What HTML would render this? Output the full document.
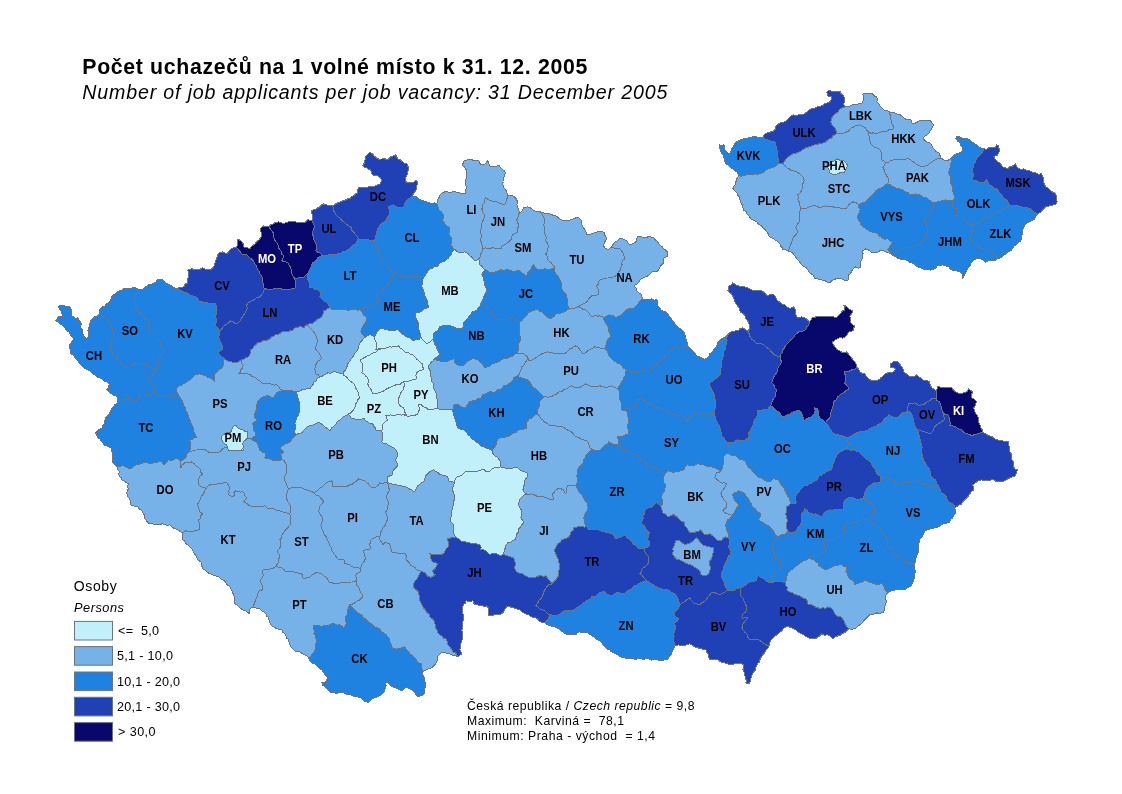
<!DOCTYPE html>
<html lang="cs">
<head>
<meta charset="utf-8">
<title>Počet uchazečů na 1 volné místo k 31. 12. 2005</title>
<style>
html,body{margin:0;padding:0;background:#fff;}
body{width:1122px;height:794px;position:relative;overflow:hidden;font-family:"Liberation Sans",Arial,sans-serif;color:#000;}
#map{position:absolute;left:0;top:0;width:1122px;height:794px;display:block;}
#map text{font-family:"Liberation Sans",Arial,sans-serif;fill:#000;}
#faces path{stroke:#6a7482;stroke-width:1;stroke-linejoin:round;shape-rendering:crispEdges;}
.c1{fill:#c2f0fa}.c2{fill:#76b2e8}.c3{fill:#2082e0}.c4{fill:#2040b6}.c5{fill:#08086c}
#labels text{font-size:12px;font-weight:bold;text-anchor:middle;}
#labels text.w{fill:#fff;}
#legend rect{stroke:#6a7482;stroke-width:1;}
#legend text{font-size:12.6px;}
#notes text{font-size:12.2px;}
</style>
</head>
<body>
<svg id="map" width="1122" height="794" viewBox="0 0 1122 794">
<rect x="0" y="0" width="1122" height="794" fill="#fff"/>
<g id="titles">
<text x="82.3" y="73.8" font-size="21.3" font-weight="bold" textLength="505" lengthAdjust="spacing">Počet uchazečů na 1 volné místo k 31. 12. 2005</text>
<text x="82.3" y="99.3" font-size="19.6" font-style="italic" textLength="585" lengthAdjust="spacing">Number of job applicants per job vacancy: 31 December 2005</text>
</g>
<g id="faces">
<path class="c3" d="M98.3,315.3 98.9,315.5 101.3,316.1 103.6,317.1 105.9,317.9 108,320.4 109.9,322.9 111,325.2 112,327.5 112.9,329.9 112.8,332.3 113.7,334.6 113.5,336.9 112,339.8 110.9,342.9 111.3,345.4 110.5,347.6 109.9,349.9 112.1,352.2 113.9,354.9 116,356.2 116.9,358.5 118.9,359.9 120.5,361.7 121.2,364.1 122.9,365.9 125.7,367.1 128.9,366.9 131,365.2 133.8,364.8 135.8,362.9 138.8,363.4 141.8,362.9 143.7,364.1 146.2,364.2 147.8,365.9 150.4,367.3 152.8,368.9 155.3,369.6 157.8,369.9 157.9,366.8 158.8,363.9 158.6,360.8 159.8,357.9 161.7,356.3 162.3,353.8 163.8,351.9 162.7,348.9 161.8,345.9 160.1,344.2 160,341.8 158.8,339.9 156,338.9 153.8,336.9 152.9,334.1 150.8,331.9 149.2,329.1 148.8,325.9 148.5,322.7 146.8,319.9 144.9,318.6 143.4,316.7 141.8,314.9 140.6,312.8 138.2,311.9 136.8,309.9 136.1,307.7 135.4,305.4 135.8,303 135.3,300 134.8,297 135.9,294.2 137.8,292 137.8,289 135.4,287.9 132.8,287.6 130.6,288.5 128.2,288.4 125.9,289 123.3,288.9 121.3,290.7 118.9,291 116.8,292.1 115.2,294.1 112.9,295 111.8,296.9 111,299 109.9,301 108.3,302.7 106.3,304.1 104.9,305.9 102.1,306.9 99.9,308.9 99.8,312 98.9,314.9Z"/>
<path class="c3" d="M157.8,369.9 155.3,369.6 152.8,368.9 150.4,367.3 147.8,365.9 146.2,364.2 143.7,364.1 141.8,362.9 138.8,363.4 135.8,362.9 133.8,364.8 131,365.2 128.9,366.9 125.7,367.1 122.9,365.9 121.2,364.1 120.5,361.7 118.9,359.9 116.9,358.5 116,356.2 113.9,354.9 112.1,352.2 109.9,349.9 110.5,347.6 111.3,345.4 110.9,342.9 112,339.8 113.5,336.9 113.7,334.6 112.8,332.3 112.9,329.9 112,327.5 111,325.2 109.9,322.9 108,320.4 105.9,317.9 103.6,317.1 101.3,316.1 98.9,315.5 98.3,315.3 97,316.1 94.7,316.4 92.9,317.9 91.5,319.7 90.3,321.6 89.9,323.9 89.1,327 87.9,329.9 88.4,332.9 88.9,335.9 86.9,338.9 85.3,337.4 83.5,335.9 82.8,333 82.9,329.9 80,326.9 81.2,324.8 80.9,322.3 79,320.4 78,317.9 75.5,318.2 73.3,316.9 71,316.9 71.9,314.5 71.6,311.9 71.1,309.3 70,306.9 66.9,306.7 64,305.6 60.9,305.4 58,306.4 60,309.9 61.5,311.7 62,314 63,315.9 60.5,316.6 58,316.9 57.3,319.3 55.6,320.9 58.2,321.8 60,323.9 62.8,325.5 65,327.9 66.1,330.4 68.8,331.5 70,333.9 71.1,336.1 73.2,337.6 74,339.9 71.9,341 71.3,343.5 69.6,344.9 69.4,347.3 70.3,349.5 70,351.9 71.2,353.9 73.3,355.1 74.6,357 76,358.9 78.2,361.2 80,363.9 81.7,365.8 83.6,367.6 85.9,368.9 88.4,370.3 91,371.6 92.9,373.9 95.5,374.8 97.2,377.1 99.9,377.9 102.1,379 103.9,380.9 106.4,381.5 108.3,383.5 110.9,383.9 108.9,385.5 108.3,388.1 106.5,389.9 108.6,390.9 109.9,392.8 112.1,394.2 114.3,395.5 116.9,395.8 117.2,398.9 117.9,401.8 120.9,401 123.9,399.8 126.8,398.7 129.9,397.8 132,399 133.4,401.1 135.8,401.8 137.6,399.2 139.8,396.8 142.8,395.7 145.8,394.8 148.1,394.4 150.3,394.3 152.5,393.8 154.8,393.8 154.8,389.9 154.1,387.7 153.1,385.7 151.8,383.9 150.9,381 148.8,378.9 150.9,377.7 152.1,375.4 153.8,373.9 155.4,371.4Z"/>
<path class="c3" d="M137.8,289 137.8,292 135.9,294.2 134.8,297 135.3,300 135.8,303 135.4,305.4 136.1,307.7 136.8,309.9 138.2,311.9 140.6,312.8 141.8,314.9 143.4,316.7 144.9,318.6 146.8,319.9 148.5,322.7 148.8,325.9 149.2,329.1 150.8,331.9 152.9,334.1 153.8,336.9 156,338.9 158.8,339.9 160,341.8 160.1,344.2 161.8,345.9 162.7,348.9 163.8,351.9 162.3,353.8 161.7,356.3 159.8,357.9 158.6,360.8 158.8,363.9 157.9,366.8 157.8,369.9 155.4,371.4 153.8,373.9 152.1,375.4 150.9,377.7 148.8,378.9 150.9,381 151.8,383.9 153.1,385.7 154.1,387.7 154.8,389.9 154.8,393.8 157.8,395 160.8,395.8 163.4,395.7 165.8,394.8 168.7,396.2 171.8,396.8 173.6,395.4 175.5,394.3 177.8,393.8 176.5,391 176.8,387.9 178.9,385.8 181.8,384.9 183.9,383.7 186,382.5 187.8,380.9 190.2,379.7 192.1,377.9 193.7,375.9 196.6,374.3 199.7,373.9 202.7,374.9 205.7,375.9 207.4,377.5 209.9,377.6 211.7,378.9 214.7,381.9 214,379.2 214.7,376.5 214.7,373.9 216.7,371.8 218.7,369.9 221.7,367.9 223,365.8 223.2,363.4 223.5,361 224.7,358.9 222.6,357.3 220.7,355.7 219,353.7 217.7,351.5 220.2,350.8 222.7,349.9 222.8,346.8 221.7,343.9 220.4,342 219.7,339.9 218.7,337.9 219.1,334.9 219.7,331.9 218.7,329.9 217.8,327.9 216.1,326.2 215.7,323.9 216.5,321.6 216.8,319.3 215.6,316.9 216.1,314.6 216.3,312.3 216.7,309.9 216.4,306.9 215.7,304 213,303.6 210.3,303.6 207.7,303 205.6,302 203.2,302.3 201.1,301.4 198.7,302 197.7,298 195.2,296.7 192.5,295.7 189.8,295 188,293.6 185.9,292.6 183.8,292 181.8,291 179,289.4 175.8,289 174,287.4 171.9,286.2 169.8,285 167.2,283.6 164.8,282 162.7,279.9 159.8,279 157.4,279.7 156.2,282.3 153.8,283 151,284.5 147.8,285 146.1,286.6 144,287.8 142.8,290 140.3,289.7Z"/>
<path class="c3" d="M154.8,393.8 152.5,393.8 150.3,394.3 148.1,394.4 145.8,394.8 142.8,395.7 139.8,396.8 137.6,399.2 135.8,401.8 133.4,401.1 132,399 129.9,397.8 126.8,398.7 123.9,399.8 120.9,401 117.9,401.8 116.4,403.5 114.7,405 113.5,406.8 111.6,408.4 110.8,410.7 109.9,412.8 108.3,415.3 106,417.2 104.9,420 104.9,424 102.7,425.1 102,427.8 99.9,429 97.6,430.8 95.5,433 96.4,435.4 97.9,437.4 99.9,439 101,441.1 103,442.7 103.9,445 106.4,445.5 108.7,446.5 110.9,448 111.9,450.9 112.3,454 112.8,456.6 112.5,459.3 112.3,461.9 114.1,463.7 115.7,465.6 117.9,466.9 120.8,466 123.9,465.9 125.8,467 128,467.7 129.9,468.9 132,467.7 133.7,466.1 135.8,464.9 138.7,465 141.1,463.3 143.8,462.9 146.3,462.6 148.8,463.1 151.3,463.6 153.8,462.9 156.4,462.2 159.1,461.8 161.8,461.9 163.8,464.9 166.4,462.9 167.8,459.9 170.3,460.1 172.9,460.2 175.2,458.9 177.8,458.9 180.8,460.9 183.4,459.7 185.8,457.9 186.6,455.9 187.2,453.7 188.8,452 190.4,449.2 190.8,446 190.5,442.9 189.8,440 192.2,439.3 194.3,437.7 196.7,437 195.3,434.4 193.7,432 193.6,428.9 192.8,426 191.2,424.2 190.6,422 189.8,419.8 188.5,416.9 187.8,413.8 186,411.1 185.8,407.8 184.2,406.1 183.3,404.1 182.5,402 181.8,399.8 180.4,397.9 179.1,395.9 177.8,393.8 175.5,394.3 173.6,395.4 171.8,396.8 168.7,396.2 165.8,394.8 163.4,395.7 160.8,395.8 157.8,395Z"/>
<path class="c2" d="M177.8,393.8 179.1,395.9 180.4,397.9 181.8,399.8 182.5,402 183.3,404.1 184.2,406.1 185.8,407.8 186,411.1 187.8,413.8 188.5,416.9 189.8,419.8 190.6,422 191.2,424.2 192.8,426 193.6,428.9 193.7,432 195.3,434.4 196.7,437 194.3,437.7 192.2,439.3 189.8,440 190.5,442.9 190.8,446 190.4,449.2 188.8,452 191.4,451.3 193.9,450.1 196.7,450 199.1,449.6 201.4,449.5 203.7,449 205.8,450.1 207.8,451.5 209.7,453 212.4,452.4 215,452.4 217.7,453 219.8,451.5 221.7,449.7 223.7,448 227.6,447.6 226.7,445 224.6,443.6 222.7,442 221.7,439.1 221.7,436 223.8,434.7 225.7,433 228.3,432.9 230.7,432 231.9,429.6 232.7,427 235.7,425 237.2,427.5 239.7,429 242.4,429.8 244.9,431.2 247.7,432 247.3,434.3 247.6,436.7 246.9,438.3 247.2,438.4 249.7,438.5 251.7,438.9 253.2,437.2 255.1,435.7 256.6,434 254.9,432.1 253.6,430 253.9,426.9 252.6,424 254.9,421.7 257.6,420 254.6,417.8 254.6,415.4 254.8,413.1 255.8,410.9 257.1,408.8 256.2,406.3 257.1,404.1 257.6,401.8 259.3,399.5 261.6,397.8 264.4,396.3 267.6,395.8 269.8,396.3 271.7,397.9 274,397.8 274.9,395 276.9,392.8 279.7,391.2 282.9,390.8 279.9,388.8 278.7,386.6 276.9,384.8 274.5,385.1 272.2,384.5 269.9,383.8 267.6,383.9 264.5,383.9 261.6,382.9 259.9,380.8 257.5,379.6 255.6,377.9 253.7,376.7 251.5,376.1 249.9,374.3 247.7,373.9 245.4,373.4 243.2,373.8 240.9,373.3 238.7,373.9 240.5,372.2 240.8,369.5 242.7,367.9 243.1,365.4 241.2,363.3 241.7,360.9 241.5,360 239.1,361.2 236.7,362.9 233.7,362.1 230.7,361.9 228.5,361.3 226.5,360.3 224.7,358.9 223.5,361 223.2,363.4 223,365.8 221.7,367.9 218.7,369.9 216.7,371.8 214.7,373.9 214.7,376.5 214,379.2 214.7,381.9 211.7,378.9 209.9,377.6 207.4,377.5 205.7,375.9 202.7,374.9 199.7,373.9 196.6,374.3 193.7,375.9 192.1,377.9 190.2,379.7 187.8,380.9 186,382.5 183.9,383.7 181.8,384.9 178.9,385.8 176.8,387.9 176.5,391Z"/>
<path class="c2" d="M188.8,452 187.2,453.7 186.6,455.9 185.8,457.9 183.4,459.7 180.8,460.9 180.3,463.3 180.8,465.6 180.8,467.9 182.2,465 184.8,462.9 187.1,462.5 189.5,462.8 191.8,461.9 193.9,463.5 195.5,465.6 197.7,466.9 199.9,468.9 200.5,472 202.7,473.9 200.2,476 198.7,478.9 198.5,481.9 198.7,484.9 200.5,486.4 202.5,487.3 204.7,487.9 205.7,488.9 207.3,486.5 209.7,484.9 212.3,484.4 215.1,484.5 217.7,483.9 219.9,483.3 222.2,483.4 224.4,482.6 226.7,482.9 228.5,485.2 229.7,487.9 228.9,490.2 229.1,492.6 228.7,494.9 230.7,495.9 232.7,496.9 234.3,495.2 234,492.6 235.7,490.9 238,491.4 240.3,492.1 242.7,491.9 244.6,493.5 245,496.1 246.7,497.9 245.1,499.8 243.7,501.9 245.9,502.9 247.9,504.2 249.6,505.9 252.3,506.1 255,506.7 257.6,506.9 259.9,506 262.4,507 264.6,505.9 266.8,507.9 269.6,508.9 272.9,508.7 275.9,509.9 278.2,510.7 280.6,511.1 282.9,511.9 285.2,512.7 287.6,513.2 289.9,513.8 290.6,510.9 290.9,507.9 290.2,505.7 289.5,503.6 287.9,501.9 286.9,499.3 286.9,496.6 286.9,493.9 287.4,491.2 288.9,488.9 287.3,487.2 286.8,485 286,482.9 284.9,480.9 284.8,478.5 284.9,476.1 285.9,473.9 287,471.3 286.5,468.5 286.9,465.9 285.5,463.4 284.2,460.8 281.9,458.9 280.2,460.5 277.9,460.9 274.7,460.6 271.6,459.9 269.5,458.7 266.9,458.9 264.6,457.9 265.8,455.6 265.6,453 263.3,452.6 261.5,451.1 259.6,450 258.6,447 257.6,444 256,441.9 253.5,440.8 251.6,439 251.7,438.9 249.7,438.5 247.2,438.4 246.9,438.3 246.7,439 244.1,441 242.7,444 243.6,446.2 242.8,448.7 243.7,451 241.4,449.9 238.9,451.1 236.7,450 234.1,451.1 231.3,450.2 228.7,451 227.7,447.9 227.6,447.6 223.7,448 221.7,449.7 219.8,451.5 217.7,453 215,452.4 212.4,452.4 209.7,453 207.8,451.5 205.8,450.1 203.7,449 201.4,449.5 199.1,449.6 196.7,450 193.9,450.1 191.4,451.3Z"/>
<path class="c4" d="M175.8,289 179,289.4 181.8,291 183.8,292 185.9,292.6 188,293.6 189.8,295 192.5,295.7 195.2,296.7 197.7,298 198.7,302 201.1,301.4 203.2,302.3 205.6,302 207.7,303 210.3,303.6 213,303.6 215.7,304 216.4,306.9 216.7,309.9 216.3,312.3 216.1,314.6 215.6,316.9 216.8,319.3 216.5,321.6 215.7,323.9 216.1,326.2 217.8,327.9 218.7,329.9 219.7,331.9 220.7,329.8 222.3,328.1 223.6,326.2 225.7,324.9 228.4,323.2 230.7,320.9 232.9,321.5 234.6,323.1 236.7,323.9 238.7,322.2 240.5,320.4 241.7,317.9 243.1,316.1 244.3,314 245.5,312 246.7,309.9 247.3,307.7 246.6,305.2 247.7,303 249.6,302 251.5,300.7 253.6,300 255.4,298.5 257.3,297.4 259.6,297 261.3,295 263.1,293.2 263.8,290.4 265.9,288.8 263.9,287.8 263.7,285.1 262.9,282.5 262.9,279.8 262.2,277.7 261.4,275.6 259.9,273.8 259.5,271.5 257.6,269.9 256.9,267.8 256.4,265.6 254.8,263.9 253.9,261.9 252.3,259.5 249.9,257.9 246.9,254.8 244.3,254.8 241.9,253.9 239.8,251.4 237.9,248.9 236.5,247.1 235.9,247.9 233.3,247.9 230.9,248.9 228.9,251.3 226.9,253.9 224.9,252.8 222.9,251.9 218.9,252.9 217.7,255.2 216.9,257.9 215.5,260.7 214.9,263.8 213.7,266.5 211.9,268.8 209.6,270 206.9,269.8 204.5,268.6 202,267.8 199.7,269.5 197,269.8 194.4,269.8 192,268.8 187.8,270 188.5,273 188.8,276 188,278.3 187.9,280.6 187.8,283 185.2,284 184,286.6 181.8,288 178.7,287.9Z"/>
<path class="c4" d="M219.7,331.9 219.1,334.9 218.7,337.9 219.7,339.9 220.4,342 221.7,343.9 222.8,346.8 222.7,349.9 220.2,350.8 217.7,351.5 219,353.7 220.7,355.7 222.6,357.3 224.7,358.9 226.5,360.3 228.5,361.3 230.7,361.9 233.7,362.1 236.7,362.9 239.1,361.2 241.5,360 241.7,359.9 244.1,359.1 246.1,357.4 248.7,356.9 249.8,354.7 250.7,352.4 250.6,349.9 252.7,348.6 253.5,346.1 255.6,344.9 257.6,342.9 260.4,342.4 262.6,340.9 265,340.6 267.4,340.1 269.6,338.9 271.5,337 273.9,335.9 275.8,334.7 278.2,334.6 280.1,333.3 281.9,331.9 284.6,331.7 287.3,331.6 289.9,330.9 292.4,330.5 294.1,328.3 296.4,327.5 298.9,326.9 301.5,326.9 303.9,327.9 305.9,324.9 308.8,324 311.9,323.9 314.3,321.9 316.8,319.9 319.3,318.4 321.8,316.9 322.9,314 323.8,310.9 325.9,310.1 327.5,308.4 329.8,307.9 328.8,304.9 326.7,302.4 323.8,300.9 321.8,299 319.8,296.9 320.8,292.8 317.8,289.8 315.1,289.3 312.6,287.7 309.8,287.8 309.4,285.1 309.1,282.3 307.8,279.8 307.9,276.8 307.8,273.8 305.7,275.1 304.1,277 301.8,277.8 299.4,277.6 297.1,278.4 294.8,278.8 295.1,281.1 296,283.2 295.8,285.5 295.8,287.8 291.8,288.8 288.9,289.7 285.8,289.8 283.1,290 280.6,288.4 277.8,288.8 275.1,288.6 272.5,289.2 269.8,289.8 265.9,288.8 263.8,290.4 263.1,293.2 261.3,295 259.6,297 257.3,297.4 255.4,298.5 253.6,300 251.5,300.7 249.6,302 247.7,303 246.6,305.2 247.3,307.7 246.7,309.9 245.5,312 244.3,314 243.1,316.1 241.7,317.9 240.5,320.4 238.7,322.2 236.7,323.9 234.6,323.1 232.9,321.5 230.7,320.9 228.4,323.2 225.7,324.9 223.6,326.2 222.3,328.1 220.7,329.8Z"/>
<path class="c2" d="M305.9,324.9 303.9,327.9 301.5,326.9 298.9,326.9 296.4,327.5 294.1,328.3 292.4,330.5 289.9,330.9 287.3,331.6 284.6,331.7 281.9,331.9 280.1,333.3 278.2,334.6 275.8,334.7 273.9,335.9 271.5,337 269.6,338.9 267.4,340.1 265,340.6 262.6,340.9 260.4,342.4 257.6,342.9 255.6,344.9 253.5,346.1 252.7,348.6 250.6,349.9 250.7,352.4 249.8,354.7 248.7,356.9 246.1,357.4 244.1,359.1 241.7,359.9 241.5,360 241.7,360.9 241.2,363.3 243.1,365.4 242.7,367.9 240.8,369.5 240.5,372.2 238.7,373.9 240.9,373.3 243.2,373.8 245.4,373.4 247.7,373.9 249.9,374.3 251.5,376.1 253.7,376.7 255.6,377.9 257.5,379.6 259.9,380.8 261.6,382.9 264.5,383.9 267.6,383.9 269.9,383.8 272.2,384.5 274.5,385.1 276.9,384.8 278.7,386.6 279.9,388.8 282.9,390.8 285.9,391 288.9,390.8 291.3,390.7 293.6,391.3 295.9,391.8 299.1,391.5 301.9,389.8 304.5,389.6 307.1,388.4 309.9,388.8 311.3,386.6 313,384.5 313.9,381.9 316.3,380.7 317.5,378.1 319.8,376.9 318.3,374.7 315.9,373.9 315.3,371.4 314.9,368.9 315.5,365.7 316.8,362.9 318.1,360.8 320.4,359.8 321.8,357.9 320.2,355.5 318.8,352.9 316.6,350.5 314.9,347.9 316,345.9 316.2,343.6 317.8,341.9 317,338.8 315.9,335.9 314.7,333.8 313.5,331.7 311.9,329.9 310.1,328 308.2,326.2Z"/>
<path class="c3" d="M295.9,391.8 293.6,391.3 291.3,390.7 288.9,390.8 285.9,391 282.9,390.8 279.7,391.2 276.9,392.8 274.9,395 274,397.8 271.7,397.9 269.8,396.3 267.6,395.8 264.4,396.3 261.6,397.8 259.3,399.5 257.6,401.8 257.1,404.1 256.2,406.3 257.1,408.8 255.8,410.9 254.8,413.1 254.6,415.4 254.6,417.8 257.6,420 254.9,421.7 252.6,424 253.9,426.9 253.6,430 254.9,432.1 256.6,434 255.1,435.7 253.2,437.2 251.7,438.9 251.6,439 253.5,440.8 256,441.9 257.6,444 258.6,447 259.6,450 261.5,451.1 263.3,452.6 265.6,453 265.8,455.6 264.6,457.9 266.9,458.9 269.5,458.7 271.6,459.9 274.7,460.6 277.9,460.9 280.2,460.5 281.9,458.9 281.6,456.2 279.9,453.9 282.1,453.2 283.9,451.9 281.8,450 279.9,447.9 282.4,445.9 284.9,443.9 287.5,443.1 289.9,441.9 291.6,440 292.9,437.9 295.9,434.9 294.7,432.6 294.9,429.9 295.6,427.6 295.3,425.3 294.9,423 295.9,420.6 296.2,418 297.9,416 299,413.3 299.9,410.7 299.9,407.8 300,405.1 299.2,402.5 298.9,399.8 297.6,397.3 297,394.5Z"/>
<path class="c2" d="M180.8,460.9 177.8,458.9 175.2,458.9 172.9,460.2 170.3,460.1 167.8,459.9 166.4,462.9 163.8,464.9 161.8,461.9 159.1,461.8 156.4,462.2 153.8,462.9 151.3,463.6 148.8,463.1 146.3,462.6 143.8,462.9 141.1,463.3 138.7,465 135.8,464.9 133.7,466.1 132,467.7 129.9,468.9 128,467.7 125.8,467 123.9,465.9 120.8,466 117.9,466.9 117.5,469.4 119.3,471.5 118.9,473.9 119.2,476.2 121.2,477.8 121.9,479.9 124.1,481.1 126.2,482.5 128.3,483.9 127.8,486.4 128.2,489 127.1,491.4 126.9,493.9 127.5,496.1 128.9,497.9 130.1,500.1 130.2,502.5 130.9,504.9 133.1,505.9 135.5,506.2 137.8,506.9 139.4,508.9 141.6,510.5 142.8,512.9 144.3,515 144.4,517.7 145.8,519.9 147.5,522.2 149.8,523.9 152.1,523.6 154.3,524.7 156.5,524.8 158.8,524.9 161.8,523.9 164.5,524.1 167,525.3 169.8,524.9 171.6,526.5 173.4,528 175.8,528.9 178.1,530.2 180.4,531.5 182.8,532.9 185.8,530.9 188.1,531.1 190.5,531.2 192.8,531.9 194.9,530.5 197.7,530.5 199.7,528.9 199.2,526.6 199.9,524.3 198.9,522.1 198.7,519.9 200.7,518.3 200.8,515.5 202.7,513.9 199.7,511.9 199.1,509.2 198.2,506.6 197.7,503.9 199.1,502.1 200.1,500.1 200.5,497.8 201.7,495.9 203.7,494 204.3,491.2 205.7,488.9 204.7,487.9 202.5,487.3 200.5,486.4 198.7,484.9 198.5,481.9 198.7,478.9 200.2,476 202.7,473.9 200.5,472 199.9,468.9 197.7,466.9 195.5,465.6 193.9,463.5 191.8,461.9 189.5,462.8 187.1,462.5 184.8,462.9 182.2,465 180.8,467.9 180.8,465.6 180.3,463.3Z"/>
<path class="c1" d="M246.9,438.3 247.6,436.7 247.3,434.3 247.7,432 244.9,431.2 242.4,429.8 239.7,429 237.2,427.5 235.7,425 232.7,427 231.9,429.6 230.7,432 228.3,432.9 225.7,433 223.8,434.7 221.7,436 221.7,439.1 222.7,442 224.6,443.6 226.7,445 227.6,447.6 227.7,447.9 228.7,451 231.3,450.2 234.1,451.1 236.7,450 238.9,451.1 241.4,449.9 243.7,451 242.8,448.7 243.6,446.2 242.7,444 244.1,441 246.7,439Z"/>
<path class="c2" d="M289.9,513.8 287.6,513.2 285.2,512.7 282.9,511.9 280.6,511.1 278.2,510.7 275.9,509.9 272.9,508.7 269.6,508.9 266.8,507.9 264.6,505.9 262.4,507 259.9,506 257.6,506.9 255,506.7 252.3,506.1 249.6,505.9 247.9,504.2 245.9,502.9 243.7,501.9 245.1,499.8 246.7,497.9 245,496.1 244.6,493.5 242.7,491.9 240.3,492.1 238,491.4 235.7,490.9 234,492.6 234.3,495.2 232.7,496.9 230.7,495.9 228.7,494.9 229.1,492.6 228.9,490.2 229.7,487.9 228.5,485.2 226.7,482.9 224.4,482.6 222.2,483.4 219.9,483.3 217.7,483.9 215.1,484.5 212.3,484.4 209.7,484.9 207.3,486.5 205.7,488.9 204.3,491.2 203.7,494 201.7,495.9 200.5,497.8 200.1,500.1 199.1,502.1 197.7,503.9 198.2,506.6 199.1,509.2 199.7,511.9 202.7,513.9 200.8,515.5 200.7,518.3 198.7,519.9 198.9,522.1 199.9,524.3 199.2,526.6 199.7,528.9 197.7,530.5 194.9,530.5 192.8,531.9 190.5,531.2 188.1,531.1 185.8,530.9 182.8,532.9 182.3,535.2 183,537.5 182.8,539.9 184.7,541.2 185.7,543.6 187.8,544.8 189.5,546.5 191,548.2 192.8,549.8 193.2,552.1 194.5,554 196,555.7 196.7,557.8 197.9,559.9 199.9,561.4 201.7,562.8 201.8,565.9 202.7,568.8 205.2,570.3 207.4,572.1 209.7,573.8 212,574.2 213.8,575.4 216,576 218.2,576.5 220,578 222,579.7 224.4,580.8 226,583 227.5,585.1 229.6,586.7 231,588.9 232.1,591.2 233.1,593.6 234,595.9 234.1,598.6 234.2,601.3 235,603.9 237.7,605.6 240,607.9 241.7,609.3 243.7,610.5 245.9,610.9 247.8,612.6 249.9,613.9 249.9,611.4 249.9,608.9 252.9,606.9 254.1,604.3 255,601.6 255.9,598.9 257.4,596.1 257.9,592.9 259.1,590.8 261.7,590.1 262.9,587.9 262.4,585.7 261.6,583.6 259.9,582 260.9,579.1 262.9,577 263.3,574.6 262.4,572.3 262.9,570 265.2,569.4 267.7,570 269.9,569 272.2,568.6 274.2,567.6 275.9,566 277.5,564.1 278.9,562 278.9,558.9 279.9,556 278.5,553.4 276.9,551 279.3,548.8 280.9,546 281,542.8 279.9,539.8 281.3,538 281.6,535.6 282.9,533.8 284.2,531.5 286,529.6 287.9,527.8 289.1,525.9 290.6,524.1 290.9,521.8 290.6,519.2 290.1,516.5Z"/>
<path class="c5" d="M236.5,247.1 237.9,248.9 239.8,251.4 241.9,253.9 244.3,254.8 246.9,254.8 249.9,257.9 252.3,259.5 253.9,261.9 254.8,263.9 256.4,265.6 256.9,267.8 257.6,269.9 259.5,271.5 259.9,273.8 261.4,275.6 262.2,277.7 262.9,279.8 262.9,282.5 263.7,285.1 263.9,287.8 265.9,288.8 269.8,289.8 272.5,289.2 275.1,288.6 277.8,288.8 280.6,288.4 283.1,290 285.8,289.8 288.9,289.7 291.8,288.8 295.8,287.8 295.8,285.5 296,283.2 295.1,281.1 294.8,278.8 293.3,276.3 291.8,273.8 291.3,270.8 290.8,267.8 289.4,265.3 287.8,262.8 284.9,261.5 281.8,260.9 282.9,258.4 283.8,255.8 281.9,254.3 281.7,251.5 279.8,249.9 278.3,247.1 277.8,243.9 276,242.2 274.8,240.1 273.8,237.9 273.9,234.8 272.8,231.9 270.7,229.5 268.8,226.9 265.8,226.4 262.9,225.9 259.9,228.9 261,231.9 261.9,234.9 260.8,237.7 258.9,239.9 256.8,241.8 254.9,243.9 253.1,245.5 251.1,246.7 249.9,248.9 247.5,247.9 244.9,247.9 243.3,246.2 243.3,243.7 241.9,241.9 239.9,240.3 237.9,238.9 237.1,241.4 237.9,243.9 237.2,246Z"/>
<path class="c5" d="M268.8,226.9 270.7,229.5 272.8,231.9 273.9,234.8 273.8,237.9 274.8,240.1 276,242.2 277.8,243.9 278.3,247.1 279.8,249.9 281.7,251.5 281.9,254.3 283.8,255.8 282.9,258.4 281.8,260.9 284.9,261.5 287.8,262.8 289.4,265.3 290.8,267.8 291.3,270.8 291.8,273.8 293.3,276.3 294.8,278.8 297.1,278.4 299.4,277.6 301.8,277.8 304.1,277 305.7,275.1 307.8,273.8 308.5,271.7 309.5,269.7 310.8,267.8 311.6,265.3 312.8,262.8 314.7,261.5 316.5,259.9 317.8,257.9 320.1,256.4 322.8,255.4 319.8,252.9 317.6,252.1 315.8,250.9 316.2,248.4 316.8,245.9 315.8,243.9 314.8,241.9 313.8,239.9 314,237.1 312.5,234.6 312.8,231.9 313.7,228.9 314.8,225.9 313.1,223.5 311.8,220.9 307.8,219.5 305.8,221.9 303.4,222.8 300.8,222.9 297.8,222.1 294.8,221.9 291.8,221.3 288.8,221.9 286.1,222.4 283.8,223.9 281.3,222.8 278.8,221.9 274.8,222.9 272.8,224.2 270.4,224.9Z"/>
<path class="c3" d="M322.8,255.4 320.1,256.4 317.8,257.9 316.5,259.9 314.7,261.5 312.8,262.8 311.6,265.3 310.8,267.8 309.5,269.7 308.5,271.7 307.8,273.8 307.9,276.8 307.8,279.8 309.1,282.3 309.4,285.1 309.8,287.8 312.6,287.7 315.1,289.3 317.8,289.8 320.8,292.8 319.8,296.9 321.8,299 323.8,300.9 326.7,302.4 328.8,304.9 329.8,307.9 332.6,309.6 335.8,309.9 338.5,309.3 341.1,309.2 343.8,309.9 346.5,310 349.1,310.3 351.8,309.5 354.5,309 357.1,310.2 359.8,309.9 362.7,308.7 365.8,307.9 368.3,306.7 370.9,305.5 373.7,304.9 376.3,303 378.7,300.9 378.1,297.8 376.7,295 377.6,291.8 379.5,290.5 381.6,289.8 383.4,288.1 386.1,287.8 387.6,285.8 389.3,284.1 390.1,281.7 391.6,279.8 392.7,277.5 392.9,274.9 394.6,272.8 392.1,271.3 389.6,269.8 388.3,267.6 386.5,265.7 384.6,263.8 383.1,262 382.7,259.5 380.4,258.2 379.6,255.8 378.6,253.2 378.2,250.3 376.6,247.9 376,245.2 374.6,242.7 374.6,239.9 373.6,240.9 371,240.8 368.4,239.6 365.7,239.9 363.2,239.8 360.7,239.8 358.3,238.9 357.1,241.4 355.7,243.9 353.3,245 351.3,246.7 349.7,248.9 347.1,250.2 344.7,251.9 342.2,251.9 340.2,253.8 337.7,253.9 335.1,254.7 332.4,254.7 329.7,254.8 327.4,255.1 325.1,255.8Z"/>
<path class="c4" d="M311.8,220.9 313.1,223.5 314.8,225.9 313.7,228.9 312.8,231.9 312.5,234.6 314,237.1 313.8,239.9 314.8,241.9 315.8,243.9 316.8,245.9 316.2,248.4 315.8,250.9 317.6,252.1 319.8,252.9 322.8,255.4 325.1,255.8 327.4,255.1 329.7,254.8 332.4,254.7 335.1,254.7 337.7,253.9 340.2,253.8 342.2,251.9 344.7,251.9 347.1,250.2 349.7,248.9 351.3,246.7 353.3,245 355.7,243.9 357.1,241.4 358.3,238.9 357.4,236.1 355.1,234.3 353.7,231.9 351.7,230.2 351,227.4 348.7,225.9 346.1,224 343.7,221.9 341.7,220.2 340,218.2 337.7,216.9 336,215.2 334.9,213 333.7,210.9 333.7,208.3 332.7,205.9 330.2,205.3 327.7,205.9 326,204.3 323.7,203.9 321.5,204.9 319.9,206.8 317.8,207.9 315.9,209.2 313.6,209.6 311.8,210.9 311.7,213.5 312.8,215.9 312.5,218.4Z"/>
<path class="c4" d="M332.7,205.9 333.7,208.3 333.7,210.9 334.9,213 336,215.2 337.7,216.9 340,218.2 341.7,220.2 343.7,221.9 346.1,224 348.7,225.9 351,227.4 351.7,230.2 353.7,231.9 355.1,234.3 357.4,236.1 358.3,238.9 360.7,239.8 363.2,239.8 365.7,239.9 368.4,239.6 371,240.8 373.6,240.9 374.6,239.9 375.7,237.3 376,234.6 376.6,231.9 377.3,229.7 378.6,227.8 379.6,225.9 381.3,224.2 383,222.7 384.9,221.5 386.6,219.9 387,217.6 388.7,215.9 389.6,213.9 389.5,211.6 389.1,209.2 388.6,206.9 390.8,205.2 393.6,204.9 395.5,206.2 397.4,207.3 399.6,207.9 400,207.9 402.2,207.5 404,205.9 405,203.4 406,200.9 407.8,199.1 410.2,197.8 412,195.9 414,192.9 415.5,191 416.9,188.9 416.7,185.8 417.9,182.9 415.9,180 414.3,181.9 412,182.9 409.5,182.9 407,182.9 405,180 405.8,177.9 406.3,175.6 408,174 407.9,170.9 409,168 407.8,166.1 407,164 404,162.9 401.6,161 399.9,159.4 397.6,159 396.8,156.9 395.6,155 393.1,155.9 390.6,157 387.6,160 384.8,158.7 381.6,159 379,159.2 376.6,158 374.4,156.2 372.7,154 369.7,152 368,154.3 365.7,156 365.5,158.6 364.7,161 364,163.6 362.7,166 364.5,167.3 366.7,168 368.4,169.4 370.7,170 371.3,172.6 372.7,175 375.2,175.1 377.6,175.9 380,177.6 381.6,179.9 380.6,183.9 378.1,184.7 375.6,185.9 373.4,186.9 370.9,185.9 368.7,186.9 366.1,187.2 363.7,187.9 361.2,188 358.7,187.9 357.6,190.3 357.7,192.9 355.4,194.1 353.7,195.9 351.5,196.5 350,198.6 347.7,198.9 345.3,200.1 342.7,200.9 340.2,202 337.7,202.9 335.1,204.2Z"/>
<path class="c3" d="M394.6,272.8 392.9,274.9 392.7,277.5 391.6,279.8 390.1,281.7 389.3,284.1 387.6,285.8 386.1,287.8 383.4,288.1 381.6,289.8 379.5,290.5 377.6,291.8 376.7,295 378.1,297.8 378.7,300.9 376.3,303 373.7,304.9 370.9,305.5 368.3,306.7 365.8,307.9 362.7,308.7 359.8,309.9 362.8,312.9 363.7,315.2 365.9,316.6 366.8,318.9 365.9,321 365.3,323.2 363.8,324.9 362.3,327.1 361.3,329.4 360.8,331.9 361.9,334.1 363.8,335.5 365.8,336.9 367.6,335.5 369.8,334.9 372.5,335.2 374.7,336.9 375.5,334.6 376.6,332.5 378.1,330.7 379.7,328.9 383.7,328.9 387.7,329.9 391.7,330.9 394.7,330.1 397.7,329.9 400.2,331.4 401.7,333.9 404.3,335.3 406.7,336.9 409.6,337.8 411.7,339.9 414,340.6 416.3,339.6 418.7,339.9 420.7,336.9 420.4,334.4 419.7,331.9 418.5,329 418.7,325.9 418.4,322.7 416.7,319.9 415.6,317.7 415.3,315.4 415.7,312.9 418.8,312.4 421.7,310.9 423.7,309 426.3,308.2 428.6,306.9 427.8,304.7 427.9,302.1 426.6,299.9 425.9,297.6 424.6,295.5 424.6,293 423.4,290.7 422.6,288.3 421.7,286 422.6,283 422.7,280 423.4,277.3 425.2,275.4 426.6,273 424.7,275.5 422.7,278 420.2,277.9 418,276.8 415.7,276 412.9,276.3 410.2,276.7 407.7,278 405.1,276.8 402.3,276.9 399.7,276 397.1,274.4Z"/>
<path class="c2" d="M329.8,307.9 327.5,308.4 325.9,310.1 323.8,310.9 322.9,314 321.8,316.9 319.3,318.4 316.8,319.9 314.3,321.9 311.9,323.9 308.8,324 305.9,324.9 308.2,326.2 310.1,328 311.9,329.9 313.5,331.7 314.7,333.8 315.9,335.9 317,338.8 317.8,341.9 316.2,343.6 316,345.9 314.9,347.9 316.6,350.5 318.8,352.9 320.2,355.5 321.8,357.9 320.4,359.8 318.1,360.8 316.8,362.9 315.5,365.7 314.9,368.9 315.3,371.4 315.9,373.9 318.3,374.7 319.8,376.9 322.1,376.4 323.9,375 326,374.1 327.8,372.9 330.6,373.3 333.1,371.8 335.8,371.9 338.1,372.7 340.4,373.6 342.8,373.9 344,371.6 345.8,369.9 346.9,366.9 347.8,363.9 349.3,361.9 350.6,359.8 352,357.7 353.8,355.9 354.5,353.5 356.4,351.9 357.8,349.9 358.3,347 359.2,344.3 360.8,341.9 362.3,340.1 363.7,338.2 365.8,336.9 363.8,335.5 361.9,334.1 360.8,331.9 361.3,329.4 362.3,327.1 363.8,324.9 365.3,323.2 365.9,321 366.8,318.9 365.9,316.6 363.7,315.2 362.8,312.9 359.8,309.9 357.1,310.2 354.5,309 351.8,309.5 349.1,310.3 346.5,310 343.8,309.9 341.1,309.2 338.5,309.3 335.8,309.9 332.6,309.6Z"/>
<path class="c1" d="M319.8,376.9 317.5,378.1 316.3,380.7 313.9,381.9 313,384.5 311.3,386.6 309.9,388.8 307.1,388.4 304.5,389.6 301.9,389.8 299.1,391.5 295.9,391.8 297,394.5 297.6,397.3 298.9,399.8 299.2,402.5 300,405.1 299.9,407.8 299.9,410.7 299,413.3 297.9,416 296.2,418 295.9,420.6 294.9,423 295.3,425.3 295.6,427.6 294.9,429.9 294.7,432.6 295.9,434.9 298.7,433.4 301.9,432.9 303.3,430.8 305.2,428.9 306.9,426.9 309.7,425.5 312.9,425 314.9,423.9 317,423.2 318.9,422 320.9,423.6 323,425.2 324.9,426.9 327.6,428.7 329.9,430.9 331.5,428.2 333.9,425.9 336.2,423.7 337.8,421 340.8,419.6 342.8,417 345.7,415.8 348.2,414 350.5,413.1 352,411.4 353.8,409.8 355.1,406.9 355.8,403.8 357.1,401.8 357.9,399.5 359.8,397.8 358.6,395.2 358.3,392.3 356.8,389.8 355.7,387.9 354.9,385.8 353.8,383.8 351.7,382.2 349.5,380.8 347.8,378.9 346.5,376.8 344.3,375.7 342.8,373.9 340.4,373.6 338.1,372.7 335.8,371.9 333.1,371.8 330.6,373.3 327.8,372.9 326,374.1 323.9,375 322.1,376.4Z"/>
<path class="c1" d="M365.8,336.9 363.7,338.2 362.3,340.1 360.8,341.9 359.2,344.3 358.3,347 357.8,349.9 356.4,351.9 354.5,353.5 353.8,355.9 352,357.7 350.6,359.8 349.3,361.9 347.8,363.9 346.9,366.9 345.8,369.9 344,371.6 342.8,373.9 344.3,375.7 346.5,376.8 347.8,378.9 349.5,380.8 351.7,382.2 353.8,383.8 354.9,385.8 355.7,387.9 356.8,389.8 358.3,392.3 358.6,395.2 359.8,397.8 357.9,399.5 357.1,401.8 355.8,403.8 355.1,406.9 353.8,409.8 352,411.4 350.5,413.1 348.2,414 350.1,416.4 351.8,419 354.2,418.8 356.5,419.4 358.8,420 361.4,419.2 363.8,418 365.3,420.5 367.8,422 370,423.6 372.8,424 373.6,426 375.2,427.7 375.8,429.9 378.7,430.9 381.8,430.9 382.3,428.6 382,426.2 382.8,424 385.1,421.8 387.8,420 386.4,417.6 385.8,415 388.1,415.4 390.5,414.9 392.8,416 395.8,415.1 398.7,414 401.3,415.1 404.2,414.8 406.7,416 405.7,413.8 404.3,410.9 403.7,407.8 400.7,406.4 398.7,403.8 398.9,401.1 398.7,398.4 399.7,395.8 400.6,393.8 401.3,391.6 403.1,390 403.7,387.8 404.4,384.8 403.7,381.9 401.6,382.7 400,384.4 397.7,384.8 394.5,385.1 391.7,386.8 389.6,387.7 387.4,388.3 385.7,389.8 383.5,391 381.2,392.1 378.7,392.8 375.8,393.9 372.8,393.8 371.6,391.4 370.8,388.8 368.7,386.7 367.8,383.8 368.4,380.8 367.8,377.9 365.8,376.2 364.2,374 361.8,372.9 362.2,370.5 362.1,368.2 362.8,365.9 362.4,363.6 360.7,361.9 359.8,359.9 361.9,359.2 363.7,357.7 365.8,356.9 367.6,355.5 369.9,355.2 371.6,353.6 373.7,352.9 375.9,352.2 377.5,350.3 379.6,349.5 381.7,348.9 378.6,348.6 375.7,349.9 376.4,346.9 376.7,343.9 375.9,341.6 374.9,339.4 374.7,336.9 372.5,335.2 369.8,334.9 367.6,335.5Z"/>
<path class="c3" d="M394.6,272.8 397.1,274.4 399.7,276 402.3,276.9 405.1,276.8 407.7,278 410.2,276.7 412.9,276.3 415.7,276 418,276.8 420.2,277.9 422.7,278 424.7,275.5 426.6,273 428.5,270.7 429.6,268 432.5,268.1 434.9,266.5 437.6,266 439.9,262.9 442,261.9 444.2,261.5 445.9,259.9 448,258.6 449.3,256.6 450.9,254.9 451.7,252.8 452.9,250.9 453.9,248.9 452.3,246.9 450.9,244.9 451.2,241.8 451.9,238.9 450.3,236.5 448.9,233.9 449.4,230.9 449.9,227.9 447.7,226.6 445.9,224.9 443.9,222.4 441.9,219.9 443.6,217.7 443.9,214.9 442.3,213.2 440.8,211.4 438.9,209.9 438.1,206.9 436.9,203.9 434.7,202.8 432.2,203.7 429.9,202.9 427.5,202.5 425.4,201.1 422.9,200.9 420.2,199.8 417.9,197.9 415.2,196.2 412,195.9 410.2,197.8 407.8,199.1 406,200.9 405,203.4 404,205.9 402.2,207.5 400,207.9 399.6,207.9 397.4,207.3 395.5,206.2 393.6,204.9 390.8,205.2 388.6,206.9 389.1,209.2 389.5,211.6 389.6,213.9 388.7,215.9 387,217.6 386.6,219.9 384.9,221.5 383,222.7 381.3,224.2 379.6,225.9 378.6,227.8 377.3,229.7 376.6,231.9 376,234.6 375.7,237.3 374.6,239.9 374.6,242.7 376,245.2 376.6,247.9 378.2,250.3 378.6,253.2 379.6,255.8 380.4,258.2 382.7,259.5 383.1,262 384.6,263.8 386.5,265.7 388.3,267.6 389.6,269.8 392.1,271.3Z"/>
<path class="c1" d="M426.6,273 425.3,275.3 425.2,275.4 423.4,277.3 422.7,280 422.6,283 421.7,286 422.6,288.3 423.4,290.7 424.6,293 424.6,295.5 425.9,297.6 426.6,299.9 427.9,302.1 427.8,304.7 428.6,306.9 426.3,308.2 423.7,309 421.7,310.9 418.8,312.4 415.7,312.9 415.3,315.4 415.6,317.7 416.7,319.9 418.4,322.7 418.7,325.9 418.5,329 419.7,331.9 420.4,334.4 420.7,336.9 422.2,339.3 424.1,341.4 426.8,343.4 428.8,342.5 430.8,341.4 433.5,338.8 433.2,336.1 433.5,333.4 435.5,332.1 437.5,330.7 438.9,328.9 439.5,326.7 443.5,325.4 445.7,325.9 448,325.9 450.8,325.9 453.4,326.9 456,327.9 458.9,328.8 462,328.9 463.4,326.8 463.5,324.3 464,321.9 466,320 467.9,317.9 469.4,316 470.9,314.1 471.9,311.9 474.5,311.1 476.9,309.9 478.4,307.7 480.2,305.6 480.9,302.9 482.3,301.1 482.9,298.9 483.8,296.8 484.3,294.6 485.9,292.8 486.8,290.8 486.1,288.2 485,285.6 484.8,282.8 483.8,280.2 483.2,277.4 481.8,274.8 483.2,272.3 484.8,269.8 483.1,268.2 481.8,266.2 479.8,264.9 479.5,261.8 478.8,258.9 477,260.1 474.9,260.9 473.2,259.2 471.8,257.2 469.9,255.9 467.8,253.3 464.9,251.9 461.9,252.4 458.9,252.9 456.4,250.8 453.9,248.9 452.9,250.9 451.7,252.8 450.9,254.9 449.3,256.6 448,258.6 445.9,259.9 444.2,261.5 442,261.9 439.9,262.9 437.6,266 434.9,266.5 432.5,268.1 429.6,268 428.5,270.7Z"/>
<path class="c1" d="M425.2,275.4 425.3,275.3 426.6,273Z"/>
<path class="c1" d="M420.7,336.9 418.7,339.9 416.3,339.6 414,340.6 411.7,339.9 409.6,337.8 406.7,336.9 404.3,335.3 401.7,333.9 400.2,331.4 397.7,329.9 394.7,330.1 391.7,330.9 387.7,329.9 383.7,328.9 379.7,328.9 378.1,330.7 376.6,332.5 375.5,334.6 374.7,336.9 374.9,339.4 375.9,341.6 376.7,343.9 376.4,346.9 375.7,349.9 378.6,348.6 381.7,348.9 384.5,348.8 387,347.5 389.7,346.9 392,347.1 394.2,346.6 396.5,346.4 398.7,345.9 399.8,348.1 402.2,349.1 403.7,350.9 405.5,352.2 408,352.2 409.7,353.9 412.1,354.6 414.1,355.9 415.7,357.9 417.2,359.6 419.1,360.9 420.5,362.8 422.7,363.9 422.5,366.5 423.6,368.9 421.4,370.4 418.7,371 416.7,372.9 415.9,375.1 416.4,377.6 415.7,379.9 412.5,379.6 409.7,380.9 406.8,381.8 403.7,381.9 404.4,384.8 403.7,387.8 403.1,390 401.3,391.6 400.6,393.8 399.7,395.8 398.7,398.4 398.9,401.1 398.7,403.8 400.7,406.4 403.7,407.8 404.3,410.9 405.7,413.8 406.7,416 409.8,416.2 412.7,415 415.3,415.1 417.7,414 418.6,411.5 419.7,409 418.9,406.5 418.7,404 421.5,405 423.7,407 426,407.4 427.6,409.2 429.7,410 431.9,409.4 434.1,409 436.4,408.8 438.7,409 437.6,406.9 437.6,404.7 437.4,402.5 437.5,400.2 436.1,396.2 436.2,393.4 434.8,390.9 433.7,388.3 433.5,385.6 433.1,383.2 431.5,381.5 431.7,378.8 430.8,376.2 430.8,373.5 430.1,370.8 429,368.6 428.1,366.2 430.8,362.8 432.6,361.2 434.1,359.5 436.1,357.5 438.3,356.3 440.2,354.8 438.8,352.1 437.2,350.4 436.8,348.1 436,346 434.8,344.1 434,341.5 433.5,338.8 430.8,341.4 428.8,342.5 426.8,343.4 424.1,341.4 422.2,339.3Z"/>
<path class="c1" d="M381.7,348.9 379.6,349.5 377.5,350.3 375.9,352.2 373.7,352.9 371.6,353.6 369.9,355.2 367.6,355.5 365.8,356.9 363.7,357.7 361.9,359.2 359.8,359.9 360.7,361.9 362.4,363.6 362.8,365.9 362.1,368.2 362.2,370.5 361.8,372.9 364.2,374 365.8,376.2 367.8,377.9 368.4,380.8 367.8,383.8 368.7,386.7 370.8,388.8 371.6,391.4 372.8,393.8 375.8,393.9 378.7,392.8 381.2,392.1 383.5,391 385.7,389.8 387.4,388.3 389.6,387.7 391.7,386.8 394.5,385.1 397.7,384.8 400,384.4 401.6,382.7 403.7,381.9 406.8,381.8 409.7,380.9 412.5,379.6 415.7,379.9 416.4,377.6 415.9,375.1 416.7,372.9 418.7,371 421.4,370.4 423.6,368.9 422.5,366.5 422.7,363.9 420.5,362.8 419.1,360.9 417.2,359.6 415.7,357.9 414.1,355.9 412.1,354.6 409.7,353.9 408,352.2 405.5,352.2 403.7,350.9 402.2,349.1 399.8,348.1 398.7,345.9 396.5,346.4 394.2,346.6 392,347.1 389.7,346.9 387,347.5 384.5,348.8Z"/>
<path class="c2" d="M436.9,203.9 438.1,206.9 438.9,209.9 440.8,211.4 442.3,213.2 443.9,214.9 443.6,217.7 441.9,219.9 443.9,222.4 445.9,224.9 447.7,226.6 449.9,227.9 449.4,230.9 448.9,233.9 450.3,236.5 451.9,238.9 451.2,241.8 450.9,244.9 452.3,246.9 453.9,248.9 456.4,250.8 458.9,252.9 461.9,252.4 464.9,251.9 467.8,253.3 469.9,255.9 471.8,257.2 473.2,259.2 474.9,260.9 477,260.1 478.8,258.9 480.2,256.5 480.8,253.9 482.1,251.5 482.8,248.9 482.4,246.2 481.7,243.5 480.8,240.9 481,238.2 481.4,235.6 480.8,232.9 480.6,230.1 481.4,227.5 481.8,224.9 482.1,222.3 483.3,219.9 484.1,217.4 484.8,214.9 483.1,213.3 482.6,211 481.8,208.9 482.8,206.8 482.8,204.3 484.8,202.5 484.3,199.9 485.8,197.9 487.7,199.2 489.5,200.6 491.8,200.9 494.1,201.9 496.6,201.7 498.8,202.9 500.9,203.8 503.1,204.3 505.4,203.9 506,201.8 506.2,199.5 507.7,197.6 507.8,195.3 507.9,195 507.8,194.9 506.7,192.5 505.8,189.9 504.2,188.2 503.4,186.2 502.8,183.9 503.5,181.5 503.8,179 504.1,175.7 505.8,173 504.2,170.6 501.8,169 500,167.2 498.8,165 495.8,167 492.9,166.2 489.8,166 488.8,163.3 487.8,160.6 486.4,162.3 484.8,164 480.8,165 479.6,162.9 478.8,160.6 476.3,160.2 473.9,161 471.6,159.5 468.9,159.4 466.4,160.4 463.9,161 463.2,163.1 461.9,165 464.2,166.6 465.9,169 466.5,171.9 466.9,175 466.4,178.1 464.9,180.9 465.9,183.3 465.9,185.9 466.6,188.3 465.1,190.6 465.9,192.9 461.9,193.9 459,192.6 455.9,191.9 453.2,191.2 450.6,192.6 447.9,191.9 444.8,191.9 441.9,192.9 439.9,195.1 438.9,197.9 437.2,200.7Z"/>
<path class="c2" d="M478.8,258.9 479.5,261.8 479.8,264.9 481.8,266.2 483.1,268.2 484.8,269.8 487.3,270.4 489.2,272.5 491.8,272.8 494.3,272.7 496.5,271.5 498.8,270.8 501,269.8 503.5,270.2 505.8,269.8 508.6,269.7 511.2,270.8 513.8,271.8 516.7,270.8 519.8,270.8 521.7,272.9 524.3,274.3 525.8,276.8 527,274.8 527.9,272.5 529.8,270.8 531.6,269.2 531.9,266.5 533.7,264.9 535.1,266.9 536.6,268.7 538.7,269.8 541.7,269.4 544.7,268.8 547.2,269.4 549.7,269.8 552.1,268.8 554.7,268.8 553.8,266.1 552.7,264.9 551.3,262.9 549.5,261.4 547.7,259.9 547.2,256.7 545.7,253.9 547.4,251.8 547.2,249 548.7,246.9 547.8,244.8 547.3,242.6 545.7,240.9 546.1,238.1 545.8,235.5 544.7,232.9 544.2,230.2 544.7,227.5 543.7,224.9 545,222 544.7,218.9 543.4,216.8 542.4,214.4 540.7,212.5 540.4,211.9 538.7,211.9 535.6,211.2 532.8,209.9 530.5,208 527.8,206.9 523.8,207.9 522.2,210.7 519.8,212.9 518.8,213.9 518.1,217 516.8,219.9 517.5,222.5 518.8,224.9 518.1,227.2 517.4,229.5 517.8,231.9 515.3,233.4 512.8,234.9 511.3,236.6 511.5,239.2 509.8,240.9 507.3,242.9 504.8,244.9 502.4,245.5 501.2,248.2 498.8,248.9 496.5,248.5 494.2,248 491.8,247.9 489.6,248.7 487.3,248.3 485,247.9 482.8,248.9 482.1,251.5 480.8,253.9 480.2,256.5Z"/>
<path class="c2" d="M507.9,195 507.8,195.3 507.7,197.6 506.2,199.5 506,201.8 505.4,203.9 503.1,204.3 500.9,203.8 498.8,202.9 496.6,201.7 494.1,201.9 491.8,200.9 489.5,200.6 487.7,199.2 485.8,197.9 484.3,199.9 484.8,202.5 482.8,204.3 482.8,206.8 481.8,208.9 482.6,211 483.1,213.3 484.8,214.9 484.1,217.4 483.3,219.9 482.1,222.3 481.8,224.9 481.4,227.5 480.6,230.1 480.8,232.9 481.4,235.6 481,238.2 480.8,240.9 481.7,243.5 482.4,246.2 482.8,248.9 485,247.9 487.3,248.3 489.6,248.7 491.8,247.9 494.2,248 496.5,248.5 498.8,248.9 501.2,248.2 502.4,245.5 504.8,244.9 507.3,242.9 509.8,240.9 511.5,239.2 511.3,236.6 512.8,234.9 515.3,233.4 517.8,231.9 517.4,229.5 518.1,227.2 518.8,224.9 517.5,222.5 516.8,219.9 518.1,217 518.8,213.9 519.8,212.9 518.5,210 517.8,206.9 516.7,204.7 517.6,202.2 516.8,199.9 515.3,197.4 512.8,195.9 510.3,195.3Z"/>
<path class="c2" d="M540.4,211.9 540.7,212.5 542.4,214.4 543.4,216.8 544.7,218.9 545,222 543.7,224.9 544.7,227.5 544.2,230.2 544.7,232.9 545.8,235.5 546.1,238.1 545.7,240.9 547.3,242.6 547.8,244.8 548.7,246.9 547.2,249 547.4,251.8 545.7,253.9 547.2,256.7 547.7,259.9 549.5,261.4 551.3,262.9 552.7,264.9 553.8,266.1 554.2,266.6 554.7,268.8 555,272.1 556.7,274.8 558.4,276.6 559.2,278.9 560.7,280.8 561.2,283.5 561.4,286.1 561.7,288.8 563.5,291.5 565.7,293.8 566.7,296.1 567.1,298.6 567.4,301 567.8,303.4 567.8,305.9 568.8,308.9 571.1,308.7 573.4,308.7 575.6,307.9 577.8,306.9 578.7,306.3 579.8,305.5 582.2,304.5 584.6,303.5 586.7,301.9 588.2,299.7 589.7,297.6 591.7,295.9 594.1,295.4 596.6,295.3 598.7,293.9 598.7,291.1 597.7,288.5 596.7,285.9 598.3,284.2 598.6,281.9 599.7,280 602.4,279.4 604.9,278.1 607.7,278 610.3,277.2 613.1,277 615.7,276 617.7,274.2 618.6,271.6 620.7,270 620.8,267.4 622.1,265.1 621.7,262.4 622.7,260 624.9,259.9 624.7,257.5 623.6,255.3 622.9,252.9 621.6,250.8 620,248.9 617.5,248.3 615,248.3 611.6,246.9 609.8,248.3 608,249.6 605.4,248.2 603.6,245.9 604.2,242.7 606,240 606.4,237.3 604.6,235 605,232.4 602.6,231.9 600.1,231.4 597.6,231.9 594.6,232.8 591.6,233.9 589.1,234.2 586.6,234.9 586.3,232.3 584.9,230.1 583.6,227.9 582,225.1 581.7,221.9 580.7,219.5 578.7,217.9 576,217.7 573.7,218.9 570.7,219.9 567.7,220.9 564.7,220.6 561.7,219.9 559.5,218.9 557.8,217.2 555.7,215.9 552.7,215.1 549.7,213.9 546.6,214 543.7,212.9 541.3,212Z"/>
<path class="c2" d="M554.7,268.8 554.2,266.6 553.8,266.1Z"/>
<path class="c3" d="M554.7,268.8 552.1,268.8 549.7,269.8 547.2,269.4 544.7,268.8 541.7,269.4 538.7,269.8 536.6,268.7 535.1,266.9 533.7,264.9 531.9,266.5 531.6,269.2 529.8,270.8 527.9,272.5 527,274.8 525.8,276.8 524.3,274.3 521.7,272.9 519.8,270.8 516.7,270.8 513.8,271.8 511.2,270.8 508.6,269.7 505.8,269.8 503.5,270.2 501,269.8 498.8,270.8 496.5,271.5 494.3,272.7 491.8,272.8 489.2,272.5 487.3,270.4 484.8,269.8 483.2,272.3 481.8,274.8 483.2,277.4 483.8,280.2 484.8,282.8 485,285.6 486.1,288.2 486.8,290.8 485.9,292.8 484.3,294.6 483.8,296.8 482.9,298.9 482.3,301.1 480.9,302.9 483.1,303.9 484.5,305.8 486.7,306.6 487.9,308.8 489.9,309.9 491.9,311.8 492.3,314.8 494.8,316.4 495.9,318.9 498.6,319.1 501.2,319.6 503.9,319.9 506.4,319.3 509,319.5 511.3,317.9 513.9,317.9 516,319 517.5,321.1 519.9,321.9 522.3,320.3 523.9,317.9 526,316.1 527.5,313.6 529.8,311.9 532.4,310.8 535,310 537.8,309.9 539.6,311.6 542.2,312.1 543.8,313.9 546,315.8 548.3,317.5 550.8,318.9 552.3,317.1 554.6,316 555.8,313.9 558.6,313.7 561.2,313 563.8,311.9 566.4,310.6 568.8,308.9 567.8,305.9 567.8,303.4 567.4,301 567.1,298.6 566.7,296.1 565.7,293.8 563.5,291.5 561.7,288.8 561.4,286.1 561.2,283.5 560.7,280.8 559.2,278.9 558.4,276.6 556.7,274.8 555,272.1Z"/>
<path class="c2" d="M578.7,306.3 578.8,306.3 580.8,308 583.1,309.4 585.7,309.9 587.7,311.7 589.4,313.7 590.7,315.9 593,316.6 595.2,315.6 597.5,316.1 599.7,315.9 602,316.3 603.7,317.9 605.6,316.6 607.6,315.6 609.7,314.9 612,315.3 614,316.3 615.7,317.9 617.6,316.7 619.7,315.9 621.7,314.9 623.1,313 624.5,311.1 626.7,309.9 629,308.7 631.7,308.9 634,308.1 635.6,306.1 637.6,304.9 637.9,303.9 639.3,302 640.9,300.2 642.9,298.9 641.7,296.5 640.9,293.9 638.7,292.7 636.9,290.9 635.9,288.1 633.9,285.9 636.9,283.9 639,282.4 639.9,279.9 642.9,277.9 645.3,276.7 647.9,275.9 650,274 651.9,271.9 654.4,271.4 656.9,271.9 658.9,269.7 659.9,266.9 661.7,264.7 663.9,262.9 662.9,258.9 664.5,257.2 666.9,256.9 667.9,252.9 666.3,250.5 663.9,248.9 662.5,247 660.4,245.8 658.9,244 657.6,241.7 655.4,240 653.9,238 651.6,237.5 649.9,236 647,237.2 643.9,238 641.1,236.2 637.9,236 636.7,238.9 635.9,242 633.3,243.2 630.9,245 628.5,243.9 627.3,241.2 624.9,240 622.6,238.7 620,238 618.3,240 616.1,241.4 614,243 612.7,244.9 611.6,246.9 615,248.3 617.5,248.3 620,248.9 621.6,250.8 622.9,252.9 623.6,255.3 624.7,257.5 624.9,259.9 622.7,260 621.7,262.4 622.1,265.1 620.8,267.4 620.7,270 618.6,271.6 617.7,274.2 615.7,276 613.1,277 610.3,277.2 607.7,278 604.9,278.1 602.4,279.4 599.7,280 598.6,281.9 598.3,284.2 596.7,285.9 597.7,288.5 598.7,291.1 598.7,293.9 596.6,295.3 594.1,295.4 591.7,295.9 589.7,297.6 588.2,299.7 586.7,301.9 584.6,303.5 582.2,304.5 579.8,305.5Z"/>
<path class="c2" d="M603.7,317.9 602,316.3 599.7,315.9 597.5,316.1 595.2,315.6 593,316.6 590.7,315.9 589.4,313.7 587.7,311.7 585.7,309.9 583.1,309.4 580.8,308 578.8,306.3 578.7,306.3 577.8,306.9 575.6,307.9 573.4,308.7 571.1,308.7 568.8,308.9 566.4,310.6 563.8,311.9 561.2,313 558.6,313.7 555.8,313.9 554.6,316 552.3,317.1 550.8,318.9 548.3,317.5 546,315.8 543.8,313.9 542.2,312.1 539.6,311.6 537.8,309.9 535,310 532.4,310.8 529.8,311.9 527.5,313.6 526,316.1 523.9,317.9 522.3,320.3 519.9,321.9 519.1,324.5 519.9,327.3 518.9,329.9 519.4,332.6 519.7,335.4 520.9,337.9 520.3,340.6 518.9,343 518.9,345.9 518.7,348.3 518.2,350.7 516.9,352.9 519.2,353.3 521.6,353 523.9,353.9 525.8,355.5 527.8,356.9 527.9,357.3 528.8,360.9 531.3,360.3 533.6,359.1 535.8,357.9 537.6,356.2 539.7,355 541.8,353.9 544.7,352.6 547.8,351.9 550.4,352.8 553.2,353 555.8,353.9 558.5,353.1 561.1,353.5 563.8,353.9 566.1,352.6 568,350.8 569.8,348.9 572,348.4 573.6,346.6 575.8,345.9 578.3,347.3 579.8,349.9 581.4,351.7 582.8,353.9 585.6,352.9 587.7,350.9 590.1,349.5 592.5,348.4 594.7,346.9 597.3,347.1 599.7,347.9 602.7,348.6 605.7,348.9 605.3,346.4 606.9,344.3 606.7,341.9 607.7,339.6 609.3,337.8 610.7,335.9 609.6,333.5 608.8,331 608.9,328.3 607.7,325.9 606.1,324.2 605.1,322.2 604,320.2Z"/>
<path class="c3" d="M642.9,298.9 640.9,300.2 639.3,302 637.9,303.9 637.6,304.9 635.6,306.1 634,308.1 631.7,308.9 629,308.7 626.7,309.9 624.5,311.1 623.1,313 621.7,314.9 619.7,315.9 617.6,316.7 615.7,317.9 614,316.3 612,315.3 609.7,314.9 607.6,315.6 605.6,316.6 603.7,317.9 604,320.2 605.1,322.2 606.1,324.2 607.7,325.9 608.9,328.3 608.8,331 609.6,333.5 610.7,335.9 609.3,337.8 607.7,339.6 606.7,341.9 606.9,344.3 605.3,346.4 605.7,348.9 607,351.1 608.3,353.3 608.7,355.9 610.4,357.4 612.2,358.9 613.5,360.8 615.7,361.9 617.5,363.5 620.1,363.9 621.7,365.9 623.7,368.5 626.7,369.9 629.3,370.2 631.1,372.4 633.6,372.8 636.5,372.8 639.1,372 641.6,370.9 644.4,370.7 646.9,372.1 649.6,371.9 651.3,369.5 653.3,367.6 655.6,365.9 657.9,363.6 659.6,360.9 661.8,360 663.9,358.8 664.8,356.6 666.7,355.1 668.5,353.7 669.9,351.8 671.6,349.8 673.4,347.9 675.9,346.8 678.9,347 681.8,347.8 684.7,346.5 687.8,346.2 688.1,346.2 687.8,345.8 687.3,343.1 686.3,340.6 685.8,337.8 684.9,334.8 683.8,331.9 681.7,329.4 678.8,327.9 677,326 675.1,324.2 673.9,321.9 672.1,320 670.5,317.9 668.9,315.9 667.5,313.8 665.9,311.9 663.2,311.2 660.9,309.9 659.7,307.6 657.9,305.9 657.5,302.9 656.9,299.9 654.2,300.1 651.9,298.9 647.9,299.9 645.3,300Z"/>
<path class="c3" d="M519.9,321.9 517.5,321.1 516,319 513.9,317.9 511.3,317.9 509,319.5 506.4,319.3 503.9,319.9 501.2,319.6 498.6,319.1 495.9,318.9 494.8,316.4 492.3,314.8 491.9,311.8 489.9,309.9 487.9,308.8 486.7,306.6 484.5,305.8 483.1,303.9 480.9,302.9 480.2,305.6 478.4,307.7 476.9,309.9 474.5,311.1 471.9,311.9 470.9,314.1 469.4,316 467.9,317.9 466,320 464,321.9 463.5,324.3 463.4,326.8 462,328.9 458.9,328.8 456,327.9 453.4,326.9 450.8,325.9 448,325.9 445.7,325.9 443.5,325.4 439.5,326.7 438.9,328.9 437.5,330.7 435.5,332.1 433.5,333.4 433.2,336.1 433.5,338.8 434,341.5 434.8,344.1 436,346 436.8,348.1 437.2,350.4 438.8,352.1 440.2,354.8 438.3,356.3 436.1,357.5 434.1,359.5 436.5,360 438.8,360.8 441.2,361.4 443.5,362 446,361.9 448.6,360.8 451.1,359.2 454,358.9 454.3,361.6 456,363.9 458.7,365.5 462,365.9 464.2,364.5 466,362.6 467.9,360.9 470.2,359.9 472.4,358.8 474.9,358.9 477.7,359.8 479.9,361.9 482.2,363.4 483.5,365.7 484.9,367.9 487.4,366.8 489.9,365.9 491.6,364.1 493.7,363.5 495.9,362.8 497.9,361.9 499.9,360.9 501.6,359.2 503.9,358.9 506.6,358.6 509.1,357.1 511.9,356.9 514.3,354.7 516.9,352.9 518.2,350.7 518.7,348.3 518.9,345.9 518.9,343 520.3,340.6 520.9,337.9 519.7,335.4 519.4,332.6 518.9,329.9 519.9,327.3 519.1,324.5Z"/>
<path class="c2" d="M527.9,357.3 527.8,356.9 525.8,355.5 523.9,353.9 521.6,353 519.2,353.3 516.9,352.9 514.3,354.7 511.9,356.9 509.1,357.1 506.6,358.6 503.9,358.9 501.6,359.2 499.9,360.9 497.9,361.9 495.9,362.8 493.7,363.5 491.6,364.1 489.9,365.9 487.4,366.8 484.9,367.9 483.5,365.7 482.2,363.4 479.9,361.9 477.7,359.8 474.9,358.9 472.4,358.8 470.2,359.9 467.9,360.9 466,362.6 464.2,364.5 462,365.9 458.7,365.5 456,363.9 454.3,361.6 454,358.9 451.1,359.2 448.6,360.8 446,361.9 443.5,362 441.2,361.4 438.8,360.8 436.5,360 434.1,359.5 432.6,361.2 430.8,362.8 428.1,366.2 429,368.6 430.1,370.8 430.8,373.5 430.8,376.2 431.7,378.8 431.5,381.5 433.1,383.2 433.5,385.6 433.7,388.3 434.8,390.9 436.2,393.4 436.1,396.2 437.5,400.2 437.4,402.5 437.6,404.7 437.6,406.9 438.7,409 441.6,409.8 444.6,410 447.4,409.2 450.2,409.5 453,409 453.5,406.3 455,404 457.7,404.3 460,406 462.8,407.4 465.9,408 466.4,405.7 468.4,404.2 468.9,402 471.3,401.3 473.6,400.5 475.9,400 478.3,398.6 480.9,398 481.9,396 482.9,394 485.3,394.1 487.4,393.1 489.5,391.8 491.9,392 494.8,392 497,389.8 499.9,389.8 502.3,388.3 503.9,385.8 506.6,385.5 508.9,383.8 510.8,382 512.7,380.3 513.9,377.8 515.7,376.6 517.9,375.8 519.3,374.1 519.9,371.9 521.1,369.5 521.9,366.8 523.9,364.9 525.3,362.5 527.1,360.2 527.8,357.5Z"/>
<path class="c2" d="M605.7,348.9 602.7,348.6 599.7,347.9 597.3,347.1 594.7,346.9 592.5,348.4 590.1,349.5 587.7,350.9 585.6,352.9 582.8,353.9 581.4,351.7 579.8,349.9 578.3,347.3 575.8,345.9 573.6,346.6 572,348.4 569.8,348.9 568,350.8 566.1,352.6 563.8,353.9 561.1,353.5 558.5,353.1 555.8,353.9 553.2,353 550.4,352.8 547.8,351.9 544.7,352.6 541.8,353.9 539.7,355 537.6,356.2 535.8,357.9 533.6,359.1 531.3,360.3 528.8,360.9 527.9,357.3 527.8,357.5 527.1,360.2 525.3,362.5 523.9,364.9 521.9,366.8 521.1,369.5 519.9,371.9 519.3,374.1 517.9,375.8 519.6,377.4 521.8,377.9 523.9,378.8 526.2,379.2 528.1,380.4 529.8,381.8 530.7,384.1 531.9,386.2 533.8,387.8 536.7,389.4 538.8,391.8 540.5,393.5 542.3,395 543.8,396.8 546.5,397 549.1,397 551.8,396.8 553.6,395.2 556.1,394.6 557.8,392.8 559.5,391.3 562,391.3 563.8,389.8 566,389.2 567.9,388.1 569.5,386.3 571.8,385.8 574.3,387 577,387.6 579.8,387.8 581.6,386.2 583.7,385.1 585.7,383.8 587.7,385 589.8,385.7 591.7,386.8 594.3,386 597.1,386.7 599.7,385.8 602.8,386.6 605.7,387.8 608.7,386.8 611.7,385.8 613.7,386.7 615.6,387.9 617.7,388.8 619.2,386.3 620.7,383.8 621.4,381.7 623,380 623.7,377.8 625.4,375.4 625.4,372.4 626.7,369.9 623.7,368.5 621.7,365.9 620.1,363.9 617.5,363.5 615.7,361.9 613.5,360.8 612.2,358.9 610.4,357.4 608.7,355.9 608.3,353.3 607,351.1Z"/>
<path class="c3" d="M626.7,369.9 625.4,372.4 625.4,375.4 623.7,377.8 623,380 621.4,381.7 620.7,383.8 619.2,386.3 617.7,388.8 619,391 619.3,393.4 619.7,395.8 619.6,398.7 620.6,401.2 621.7,403.8 621.6,406.9 621.7,410 624.6,410.2 626.9,408.6 629.7,409 631.8,407.5 634.4,407.3 636.6,406 636.5,402.9 637.6,400 640,398.9 642.3,399.2 644.2,400.5 646,401.9 647.7,403.4 649.7,404.4 652,404.9 653.7,406.4 655.6,407.6 658.3,407.3 660,408.9 663,409.4 666,409.9 668.3,411.6 670,413.9 672.6,414 675.3,414.2 677.9,414.9 681,415.6 683.9,416.9 686,419.1 686.9,421.9 688,419.4 689.8,417.5 691.9,415.9 693.9,414.8 696.2,414.5 697.9,412.9 700.5,413.8 703.1,414.4 705.9,413.9 708.6,414.1 711.2,415 713.9,414.9 714.9,412.8 714.2,410.3 715.6,408.2 715.9,405.9 715.6,403.2 715.1,400.6 714.9,397.9 714.6,395 713.4,392.4 711.9,389.9 710.5,387.8 709.8,385.5 709.9,382.9 712.5,381.1 714.9,378.9 717.8,377.5 719.9,375 720.8,372.7 720.1,370.2 720.9,368 721.9,365 721.8,361.8 722.1,359.1 723.3,356.5 723.8,353.8 723.9,351 725.8,348.7 725.8,345.8 726.4,343.4 727.1,340.9 726.7,338.3 727.4,335.8 727.5,335.1 726.8,335.8 724.4,337.6 721.8,338.8 719.8,340.8 717.8,342.8 717.1,345.5 715.3,347.6 713.8,349.8 712,352 709.8,353.8 708.8,356.6 706.8,358.8 704.1,359.1 701.8,357.8 699.8,356.7 697.6,356.3 695.8,354.8 694,352.2 691.8,349.8 689.7,348 688.1,346.2 687.8,346.2 684.7,346.5 681.8,347.8 678.9,347 675.9,346.8 673.4,347.9 671.6,349.8 669.9,351.8 668.5,353.7 666.7,355.1 664.8,356.6 663.9,358.8 661.8,360 659.6,360.9 657.9,363.6 655.6,365.9 653.3,367.6 651.3,369.5 649.6,371.9 646.9,372.1 644.4,370.7 641.6,370.9 639.1,372 636.5,372.8 633.6,372.8 631.1,372.4 629.3,370.2Z"/>
<path class="c2" d="M617.7,388.8 615.6,387.9 613.7,386.7 611.7,385.8 608.7,386.8 605.7,387.8 602.8,386.6 599.7,385.8 597.1,386.7 594.3,386 591.7,386.8 589.8,385.7 587.7,385 585.7,383.8 583.7,385.1 581.6,386.2 579.8,387.8 577,387.6 574.3,387 571.8,385.8 569.5,386.3 567.9,388.1 566,389.2 563.8,389.8 562,391.3 559.5,391.3 557.8,392.8 556.1,394.6 553.6,395.2 551.8,396.8 549.1,397 546.5,397 543.8,396.8 540.8,400 539.5,402.1 540,404.8 538.8,407 537.8,409.2 537.7,411.7 536.8,414 539.3,415.5 540.4,418.4 542.8,420 544.4,422.1 546.9,423.2 548.8,425 551.1,425.6 553.5,425.4 555.8,425.9 558,426.9 560.5,426.1 562.8,426.9 565,428.4 567.3,429.9 569.8,430.9 572.2,432.5 573.9,434.8 575.8,436.9 578.7,437.2 581,439.1 583.7,439.9 586.6,440.8 588.7,442.9 589.1,445.5 589.7,447.9 592.7,449.9 595.8,450.2 598.7,450.9 601.2,448.9 603.7,446.9 605,444.9 607.5,444 608.7,441.9 611.3,443.2 613.7,444.9 616.2,444.3 618.7,444.9 618.6,442.2 618.1,439.6 617.7,436.9 620.7,436.7 623.7,435.9 625.9,434.3 628.7,433.9 628.6,430.9 627.7,427.9 627.6,425.2 628.9,422.7 628.7,420 628.1,417.3 627.4,414.7 627.7,412 624.9,410.2 624.6,410.2 624.4,410.3 621.7,410 621.6,406.9 621.7,403.8 620.6,401.2 619.6,398.7 619.7,395.8 619.3,393.4 619,391Z"/>
<path class="c3" d="M543.8,396.8 542.3,395 540.5,393.5 538.8,391.8 536.7,389.4 533.8,387.8 531.9,386.2 530.7,384.1 529.8,381.8 528.1,380.4 526.2,379.2 523.9,378.8 521.8,377.9 519.6,377.4 517.9,375.8 515.7,376.6 513.9,377.8 512.7,380.3 510.8,382 508.9,383.8 506.6,385.5 503.9,385.8 502.3,388.3 499.9,389.8 497,389.8 494.8,392 491.9,392 489.5,391.8 487.4,393.1 485.3,394.1 482.9,394 481.9,396 480.9,398 478.3,398.6 475.9,400 473.6,400.5 471.3,401.3 468.9,402 468.4,404.2 466.4,405.7 465.9,408 462.8,407.4 460,406 457.7,404.3 455,404 453.5,406.3 453,409 452.6,411.4 453.7,413.6 454,416 455.2,418.9 456,422 456.5,425.1 458,427.9 460.9,429.3 464,429.9 466.5,432 467.9,434.9 470.5,436 471.5,438.8 473.9,439.9 475.7,441.9 478.4,442.7 479.9,444.9 481.7,446.3 484,446.7 485.9,447.9 488.9,449 491.9,449.9 494.3,447.7 495.9,444.9 496.8,441.9 497.9,438.9 500.4,437.6 503.3,438 505.9,436.9 508,436.2 510,435.3 511.8,433.8 513.9,432.9 516.1,432.3 517.5,430.3 519.9,429.9 522.3,429.9 524.5,428.6 526.8,427.9 526.7,424.9 525.9,422 527.9,420.7 529.4,418.7 531.8,418 534,415.6 536.8,414 537.7,411.7 537.8,409.2 538.8,407 540,404.8 539.5,402.1 540.8,400Z"/>
<path class="c4" d="M748.7,331.9 749.3,335 750.7,337.8 752.2,339.7 754.3,340.9 755.7,342.8 758.3,343.8 761.1,343.8 763.7,344.8 765.6,346.6 767.7,348.2 769.7,349.8 771.4,352.1 773.4,354.1 775.7,355.8 778.2,356.1 780.7,356.8 780.7,354.3 782.6,352.3 782.7,349.8 784.5,347.9 785.4,345.4 787.6,343.8 789.4,341.6 791.2,339.4 793.6,337.8 794.8,335.5 796.7,333.6 798.6,331.9 801.2,331.7 803.6,330.9 805.8,329.7 806.4,327 808.6,325.9 809.6,321.9 806.6,318.9 804.3,317.4 801.6,316.9 799.1,317.3 796.6,316.9 795.8,314.6 795.5,312.3 795.6,309.9 793.6,306.9 790.8,308.1 787.6,307.9 786.1,305.9 784.1,304.6 781.7,303.9 779.3,301.7 776.7,299.9 775.8,297 773.7,294.9 771.2,294.5 768.9,294.9 766.7,295.9 765.6,293.7 763.8,292.2 761.7,290.9 758.7,290.5 755.7,290.9 752.5,290.4 749.7,288.9 747.3,287.8 744.7,286.9 741.7,286.5 738.7,285.9 736.4,285.6 734.6,284.1 732.8,282.9 731.2,285 728.8,285.9 728.9,288.5 727.8,290.9 729.6,292.4 731.4,293.9 732.8,295.9 733.7,298.4 734.7,300.9 735.8,303.6 737.7,305.9 739,308.3 739.7,310.9 741.4,312.8 743.7,313.9 745.1,316.2 745.9,318.8 747.7,320.9 748.8,323.3 749.7,325.9 749.1,328.8Z"/>
<path class="c4" d="M780.7,356.8 778.2,356.1 775.7,355.8 773.4,354.1 771.4,352.1 769.7,349.8 767.7,348.2 765.6,346.6 763.7,344.8 761.1,343.8 758.3,343.8 755.7,342.8 754.3,340.9 752.2,339.7 750.7,337.8 749.3,335 748.7,331.9 745.7,329.9 742.7,327.9 740.2,328.3 738.4,330.5 735.7,330.9 732.6,331.3 729.8,332.8 727.5,335.1 727.4,335.8 726.7,338.3 727.1,340.9 726.4,343.4 725.8,345.8 725.8,348.7 723.9,351 723.8,353.8 723.3,356.5 722.1,359.1 721.8,361.8 721.9,365 720.9,368 720.1,370.2 720.8,372.7 719.9,375 717.8,377.5 714.9,378.9 712.5,381.1 709.9,382.9 709.8,385.5 710.5,387.8 711.9,389.9 713.4,392.4 714.6,395 714.9,397.9 715.1,400.6 715.6,403.2 715.9,405.9 715.6,408.2 714.2,410.3 714.9,412.8 713.9,414.9 715.6,416.9 715.6,419.7 716.9,421.9 718.1,423.8 719.4,425.6 719.9,427.9 720.5,430.6 721.3,433.2 721.9,435.9 723.5,437.8 724.9,439.9 727.8,442.9 730.3,442.2 732.8,442.9 735.2,441.2 737.8,439.9 740.8,440.6 743.8,440.9 746,438.9 748.8,437.9 749.1,435.4 748.8,432.9 750.3,430.4 751.8,427.9 753.1,425 753.8,421.9 754.9,419.1 756.8,416.9 757.6,414 757.8,410.9 760.4,410.9 762.8,409.9 765.3,409.8 767.8,409.9 768.9,407.6 770.8,405.9 771.6,402.9 772.8,399.9 774.2,397.8 775.8,395.9 775.7,392.8 776.8,389.9 774.9,387.7 773.8,385 771.8,382.9 772.7,379.9 773.8,376.9 775.2,374.7 776.7,372.4 777.8,370 778.1,367.6 779.2,365.7 780.8,364 781.2,361.6 780.8,359.2Z"/>
<path class="c5" d="M809.6,321.9 808.6,325.9 806.4,327 805.8,329.7 803.6,330.9 801.2,331.7 798.6,331.9 796.7,333.6 794.8,335.5 793.6,337.8 791.2,339.4 789.4,341.6 787.6,343.8 785.4,345.4 784.5,347.9 782.7,349.8 782.6,352.3 780.7,354.3 780.7,356.8 780.8,359.2 781.2,361.6 780.8,364 779.2,365.7 778.1,367.6 777.8,370 776.7,372.4 775.2,374.7 773.8,376.9 772.7,379.9 771.8,382.9 773.8,385 774.9,387.7 776.8,389.9 775.7,392.8 775.8,395.9 774.2,397.8 772.8,399.9 771.6,402.9 770.8,405.9 773.5,407.6 775.8,409.9 777.7,411.5 779.8,412.9 780.9,414.8 781.8,416.9 784.8,416.2 787.7,414.9 790,414.5 791.6,412.6 793.7,411.9 796.6,410.9 799.7,410.9 801.5,413.3 802.7,415.9 803.7,418.8 803.7,421.9 805.8,419.4 808.7,417.9 811.4,416.7 813.7,414.9 814.6,412.7 815.1,410.3 814.7,407.9 817.7,408.9 818.4,411.2 819,413.5 818.7,415.9 820.1,418.5 822.7,419.9 825.7,422.9 827.3,420.1 829.7,417.9 830.7,415.3 830.9,412.5 831.7,409.9 832.6,407.3 833.7,404.8 833.6,401.9 836.1,399.7 837.6,396.9 839.6,395.6 841.3,393.8 843.6,392.9 845.8,390.5 848.6,388.9 847.8,386.6 846.2,384.8 844.6,382.9 845.6,380 845.6,376.9 845,374.5 844.6,372 846.9,371 849.4,371.1 851.6,370 854.4,369.4 856.6,367.6 857.2,367.3 856.9,366.9 856.1,364.3 854.9,361.9 852.8,359.5 850.9,356.9 848.7,354.6 846.9,351.9 842.9,352.9 839.9,350.9 837,349.4 834.9,346.9 833.3,344.5 831.9,341.9 834.1,341.2 835.6,339.4 837.9,338.9 840.1,337.5 842.8,338.4 844.9,336.9 847,335.4 847.9,332.9 850.2,331.5 852.9,330.9 853.6,328.3 854.9,325.9 852.6,324.9 850.9,323 850.2,320.7 850.2,318.3 849.9,316 851.6,313.6 852.9,311 850.9,309.9 848.9,309 846.5,306.8 843.9,305 844.1,307.5 844.9,310 842.5,310.8 840.9,313 838.9,315 836.9,317 834.5,317.3 832.3,316 830,316 827.5,316.6 825,316.6 822.4,316.5 820,317 817.2,316.5 814.6,317.3 812,318 811,320Z"/>
<path class="c3" d="M727.8,442.9 724.9,439.9 723.5,437.8 721.9,435.9 721.3,433.2 720.5,430.6 719.9,427.9 719.4,425.6 718.1,423.8 716.9,421.9 715.6,419.7 715.6,416.9 713.9,414.9 711.2,415 708.6,414.1 705.9,413.9 703.1,414.4 700.5,413.8 697.9,412.9 696.2,414.5 693.9,414.8 691.9,415.9 689.8,417.5 688,419.4 686.9,421.9 686,419.1 683.9,416.9 681,415.6 677.9,414.9 675.3,414.2 672.6,414 670,413.9 668.3,411.6 666,409.9 663,409.4 660,408.9 658.3,407.3 655.6,407.6 653.7,406.4 652,404.9 649.7,404.4 647.7,403.4 646,401.9 644.2,400.5 642.3,399.2 640,398.9 637.6,400 636.5,402.9 636.6,406 634.4,407.3 631.8,407.5 629.7,409 626.9,408.6 624.6,410.2 624.9,410.2 627.7,412 627.4,414.7 628.1,417.3 628.7,420 628.9,422.7 627.6,425.2 627.7,427.9 628.6,430.9 628.7,433.9 625.9,434.3 623.7,435.9 620.7,436.7 617.7,436.9 618.1,439.6 618.6,442.2 618.7,444.9 620.5,446.5 622.2,448.1 623.7,449.9 626.1,450.3 628.4,450.9 630.7,451.9 632.5,453.3 634.7,453.7 636.6,454.9 640,456.9 640.9,459.1 643.3,460.1 644.5,462.1 646,463.8 648,464.8 649.9,466 652,466.8 654.7,467.6 657.3,468.8 660,469.8 662.1,472.3 665,473.8 668,470.8 670.6,471.5 673.2,472.2 675.9,471.8 678.7,471.4 681.3,470.6 683.9,469.8 684.8,467 686.9,464.8 689.2,465.5 691.6,465.5 693.9,465.8 695.7,464.5 697.9,463.8 700.5,464.6 703.4,464.6 705.9,465.8 708.5,466.7 711.3,466.8 713.9,467.8 716.4,468.4 718.5,469.8 720.9,470.8 722.3,468.7 722.2,465.9 723.9,463.8 723.6,460.8 722.9,457.9 724.2,455.8 725.9,453.9 728.8,453.9 729.6,451.4 729.8,448.9 728.6,445.9Z"/>
<path class="c3" d="M770.8,405.9 768.9,407.6 767.8,409.9 765.3,409.8 762.8,409.9 760.4,410.9 757.8,410.9 757.6,414 756.8,416.9 754.9,419.1 753.8,421.9 753.1,425 751.8,427.9 750.3,430.4 748.8,432.9 749.1,435.4 748.8,437.9 746,438.9 743.8,440.9 740.8,440.6 737.8,439.9 735.2,441.2 732.8,442.9 730.3,442.2 727.8,442.9 728.6,445.9 729.8,448.9 729.6,451.4 728.8,453.9 731,455.2 733.3,455.8 735.8,455.9 737.6,457.6 739.5,459 741.8,459.9 744.1,460.2 745.8,461.9 746.3,464.1 747.7,465.9 748.8,467.8 751,469 752.4,471 753.8,472.8 756.1,474.5 757.8,476.8 759.9,477.7 762.1,478.2 763.8,479.8 766.7,481.1 769.8,481.8 772.1,480.1 773.8,477.8 775.6,479.1 777.8,479.8 779.5,481.6 780.6,483.7 781.8,485.8 783.6,487.5 784.6,489.7 785.7,491.8 786.8,494.3 788.1,496.7 789.6,498.9 790.6,502.9 793.6,503.4 796.6,502.9 795.7,500 795.6,496.9 796.9,494.2 798.7,491.8 800.4,489.8 802.2,488 803.7,485.8 806.9,485.4 809.7,483.8 811.9,483.2 813.4,481.3 815.7,480.8 817.7,478.7 818.7,475.8 821,475.5 822.9,474.3 824.7,472.8 827.4,471.1 830.7,470.8 832.2,468 832.7,464.8 833.9,462.6 834.6,460.2 835.6,457.9 836.3,455.4 837.9,453.6 839.6,451.9 842,450.8 844.3,449.9 846.6,448.9 847.4,446.3 848.6,443.9 847.5,441 847.6,437.9 844.8,436.3 841.6,435.9 839.4,435.1 837,434.5 834.6,433.9 832.4,432.8 831.6,430.3 829.7,428.9 828.8,426.6 827.5,424.6 825.7,422.9 822.7,419.9 820.1,418.5 818.7,415.9 819,413.5 818.4,411.2 817.7,408.9 814.7,407.9 815.1,410.3 814.6,412.7 813.7,414.9 811.4,416.7 808.7,417.9 805.8,419.4 803.7,421.9 803.7,418.8 802.7,415.9 801.5,413.3 799.7,410.9 796.6,410.9 793.7,411.9 791.6,412.6 790,414.5 787.7,414.9 784.8,416.2 781.8,416.9 780.9,414.8 779.8,412.9 777.7,411.5 775.8,409.9 773.5,407.6Z"/>
<path class="c4" d="M857.2,367.3 856.6,367.6 854.4,369.4 851.6,370 849.4,371.1 846.9,371 844.6,372 845,374.5 845.6,376.9 845.6,380 844.6,382.9 846.2,384.8 847.8,386.6 848.6,388.9 845.8,390.5 843.6,392.9 841.3,393.8 839.6,395.6 837.6,396.9 836.1,399.7 833.6,401.9 833.7,404.8 832.6,407.3 831.7,409.9 830.9,412.5 830.7,415.3 829.7,417.9 827.3,420.1 825.7,422.9 827.5,424.6 828.8,426.6 829.7,428.9 831.6,430.3 832.4,432.8 834.6,433.9 837,434.5 839.4,435.1 841.6,435.9 844.8,436.3 847.6,437.9 850,436.6 852.4,435.4 854.6,433.9 857.1,432.7 859.6,431.9 862.8,431.8 865.9,430.8 868,430.1 869.8,428.6 871.9,427.8 873.6,426.4 876,426 877.8,424.7 879.9,423.8 882.3,422.3 883.9,419.8 885.5,418.1 887.3,416.6 888.8,414.8 891.4,416.3 893.8,417.8 896.4,417.7 898.8,416.8 901.8,413.8 903.5,412.2 906.1,412.5 907.8,410.9 907.7,408.5 907.8,406.1 908.8,403.9 911.8,403.4 914.8,402.9 917.3,404.4 919.8,405.9 921.5,404.3 924.1,404.5 925.8,402.9 927.7,401.4 930,400.6 931.8,398.9 935.8,398.9 936.9,396.5 936.8,393.9 936.6,391.3 937,389 935.8,390.9 934.1,388.9 931.8,387.9 930.1,385.1 929.8,381.9 926.9,380.6 923.8,380.9 920.8,377.9 918.6,376.7 916.8,374.9 913.8,376.9 911.3,376.6 908.8,375.9 906.3,373.9 903.8,371.9 903.1,369.3 901.8,366.9 900.4,364.8 898.8,362.9 897.1,361.4 894.8,360.9 892.8,362.4 890.8,363.9 890.8,367.9 893.4,367.9 895.8,368.9 893.8,371.9 890.8,372.3 887.8,372.9 885.1,374 882.9,375.9 880.8,377.9 878.9,379.9 876.4,380.4 873.9,380.9 871.2,380.4 868.9,378.9 866.6,376.6 864.9,373.9 862.1,373.5 859.9,371.9 858.5,369.3Z"/>
<path class="c3" d="M847.6,437.9 847.5,441 848.6,443.9 847.4,446.3 846.6,448.9 848.9,449.7 851.2,450.2 853.6,449.9 856.1,451 858.6,451.9 859.9,453 862.1,454.7 863.9,456.9 865.7,458.8 868.3,459.8 869.9,461.9 871.5,463.7 872.6,465.9 873.9,467.9 875.4,469.7 875.9,471.9 877,474.2 879.1,475.4 880.9,476.9 883.9,477.9 886.7,478.1 889.3,479 891.9,479.9 894.2,482.1 895.9,484.9 898.3,483.5 901.4,484.3 903.8,482.9 906.5,482.8 909.3,483 911.8,481.9 914.2,481.9 916.5,481.1 918.8,480.9 921,482.5 923.3,483.9 925.8,484.9 929,485.3 931.8,486.9 935,486.5 937.8,484.9 936.3,482.6 935.8,479.9 933,478.3 930.8,475.9 930.4,472.9 929.8,469.9 928.8,467.7 927.1,466 925.8,463.9 924.7,462 923.5,460.1 922.8,457.9 922.4,455.3 921.8,452.7 921.8,450 922.1,447.2 921.3,444.6 920.8,442 919.8,437.8 918.9,435.2 918.3,432.5 917.8,429.8 915.7,428.3 914.8,425.8 913.9,422.9 913.8,419.8 912.7,417.4 911.8,414.8 910.2,412.5 907.8,410.9 906.1,412.5 903.5,412.2 901.8,413.8 898.8,416.8 896.4,417.7 893.8,417.8 891.4,416.3 888.8,414.8 887.3,416.6 885.5,418.1 883.9,419.8 882.3,422.3 879.9,423.8 877.8,424.7 876,426 873.6,426.4 871.9,427.8 869.8,428.6 868,430.1 865.9,430.8 862.8,431.8 859.6,431.9 857.1,432.7 854.6,433.9 852.4,435.4 850,436.6Z"/>
<path class="c2" d="M728.8,453.9 725.9,453.9 724.2,455.8 722.9,457.9 723.6,460.8 723.9,463.8 722.2,465.9 722.3,468.7 720.9,470.8 719.1,472.2 716.9,472.8 715.3,475.1 714.9,477.8 717.4,479.8 719.9,481.8 722,483.1 724.6,482.9 726.8,483.8 725.4,486.4 723.9,488.8 721.9,491 720.9,493.8 721.7,495.9 722.8,497.9 724.4,500.7 726.8,502.9 726.9,505.6 725.8,507.9 722.8,510.9 725,512.8 727.8,513.9 730,514.4 731.8,515.9 733.7,514 734.4,511.9 735.7,509.9 736.4,507.8 738.3,506.2 738.7,503.9 736.6,502.8 735.2,500.8 733.7,498.9 732.8,494.9 734.4,493 736.6,492.1 738.7,490.9 741.4,491.4 743.7,492.9 745.4,494.9 746.7,497.3 748.7,498.9 749.5,501.4 751.1,503.4 751.7,505.9 753.2,507.8 755.5,508.8 756.7,510.9 758.8,512.3 760.7,513.9 759.9,517 758.7,519.9 761,521.7 763.7,522.9 766.1,524.5 768.7,525.9 770.2,527.7 771.7,529.5 773.7,530.9 774.4,533.3 776,535.4 776.7,537.9 778.9,535.9 781.7,534.9 784.2,535 786.2,533 788.6,532.9 787.6,530.4 786.6,527.9 786.9,525.6 786.7,523.2 787.6,520.9 786.8,518.6 786.3,516.2 785.6,513.9 786.4,511.6 786.9,509.3 786.6,506.9 789.1,505.4 790.6,502.9 789.6,498.9 788.1,496.7 786.8,494.3 785.7,491.8 784.6,489.7 783.6,487.5 781.8,485.8 780.6,483.7 779.5,481.6 777.8,479.8 775.6,479.1 773.8,477.8 772.1,480.1 769.8,481.8 766.7,481.1 763.8,479.8 762.1,478.2 759.9,477.7 757.8,476.8 756.1,474.5 753.8,472.8 752.4,471 751,469 748.8,467.8 747.7,465.9 746.3,464.1 745.8,461.9 744.1,460.2 741.8,459.9 739.5,459 737.6,457.6 735.8,455.9 733.3,455.8 731,455.2Z"/>
<path class="c4" d="M935.8,398.9 931.8,398.9 930,400.6 927.7,401.4 925.8,402.9 924.1,404.5 921.5,404.3 919.8,405.9 917.3,404.4 914.8,402.9 911.8,403.4 908.8,403.9 907.8,406.1 907.7,408.5 907.8,410.9 910.2,412.5 911.8,414.8 912.7,417.4 913.8,419.8 913.9,422.9 914.8,425.8 915.7,428.3 917.8,429.8 921,430.3 923.8,431.8 926.9,432.5 929.8,433.8 931.9,432 933.8,429.8 934.1,427.5 935.8,425.8 937.6,424.1 939.8,422.8 942.2,421.2 944.7,419.8 944,416.9 943.7,413.8 942.1,411.1 941.8,407.9 940.7,404.9 939.8,401.9 937.4,400.8Z"/>
<path class="c5" d="M937.8,386.3 937,388.8 937,389 937.2,388.7Z"/>
<path class="c5" d="M937,389 936.6,391.3 936.8,393.9 936.9,396.5 935.8,398.9 937.4,400.8 939.8,401.9 940.7,404.9 941.8,407.9 942.1,411.1 943.7,413.8 947.7,414.8 949.4,417.6 949.7,420.8 950.4,423.3 949.7,425.8 952.8,426 955.7,426.8 957.5,428.3 959.5,429.3 961.7,429.8 963.7,432.4 966.7,433.8 969.4,434.4 971.7,435.8 974.6,434.5 977.7,433.8 980.1,432.9 982.7,432.8 982.6,430.3 981.1,428.2 980.7,425.8 979,423.1 978.7,419.8 978.2,417.6 977.3,415.5 975.7,413.8 974.7,410.8 973.7,407.9 974.9,406 975.7,403.9 976.7,401.9 974.5,399.4 971.7,397.9 971.5,394.8 972.7,391.9 970.7,390.4 968.7,388.9 966.7,391.9 963.9,392.2 961.7,393.9 958.6,393.3 955.7,391.9 953.5,390.1 951.7,387.9 949.1,387.8 946.4,387.5 943.7,387.9 940.7,387.2 937.8,386.3 937.2,388.7Z"/>
<path class="c4" d="M982.7,432.8 980.1,432.9 977.7,433.8 974.6,434.5 971.7,435.8 969.4,434.4 966.7,433.8 963.7,432.4 961.7,429.8 959.5,429.3 957.5,428.3 955.7,426.8 952.8,426 949.7,425.8 950.4,423.3 949.7,420.8 949.4,417.6 947.7,414.8 943.7,413.8 944,416.9 944.7,419.8 942.2,421.2 939.8,422.8 937.6,424.1 935.8,425.8 934.1,427.5 933.8,429.8 931.9,432 929.8,433.8 926.9,432.5 923.8,431.8 921,430.3 917.8,429.8 918.3,432.5 918.9,435.2 919.8,437.8 920.8,442 921.3,444.6 922.1,447.2 921.8,450 921.8,452.7 922.4,455.3 922.8,457.9 923.5,460.1 924.7,462 925.8,463.9 927.1,466 928.8,467.7 929.8,469.9 930.4,472.9 930.8,475.9 933,478.3 935.8,479.9 936.3,482.6 937.8,484.9 939.2,487.1 940,489.5 940.8,491.9 943.3,493.9 945.8,495.9 946.7,497.9 947.5,500 948.8,501.9 951.3,503.2 953.7,504.9 955.3,507.1 955.5,507.4 957.7,505.9 959.7,504.8 961.7,503.9 963.3,501 965.7,498.9 968,496.6 969.7,493.9 971.2,491.4 973.7,489.9 973.5,487.3 972.7,484.9 974.6,483.3 976.7,481.9 979,480.4 981.7,479.9 984.1,480.8 986.7,480.9 989,480.3 991.3,480 993.7,479.9 996.4,481.6 999.7,481.9 1002.2,481.7 1004.6,480.9 1007.1,479.3 1009.6,477.9 1012.6,476.7 1015.6,475.9 1016.3,472.8 1017.6,469.9 1015.2,469 1013.6,466.9 1013.9,464.4 1013.6,461.9 1012,459.7 1011.6,456.9 1011.7,454.4 1010,452.4 1009.6,450 1009.4,447.2 1008.3,444.6 1008.6,441.8 1006.2,442 1004,441.3 1001.6,440.8 999.3,440.2 996.9,439.8 994.6,438.8 993,437.2 990.9,436.3 988.7,435.8 986.8,434.5 985,433.1Z"/>
<path class="c3" d="M955.5,507.4 955.3,507.1 953.7,504.9 951.3,503.2 948.8,501.9 947.5,500 946.7,497.9 945.8,495.9 943.3,493.9 940.8,491.9 940,489.5 939.2,487.1 937.8,484.9 935,486.5 931.8,486.9 929,485.3 925.8,484.9 923.3,483.9 921,482.5 918.8,480.9 916.5,481.1 914.2,481.9 911.8,481.9 909.3,483 906.5,482.8 903.8,482.9 901.4,484.3 898.3,483.5 895.9,484.9 894.2,482.1 891.9,479.9 889.3,479 886.7,478.1 883.9,477.9 880.9,476.9 881,479.5 879.9,481.9 877,483.1 873.9,482.9 872,484.4 869.9,485.5 867.9,486.9 866.3,489.4 864.9,491.9 864.1,494.9 863.9,497.9 865.8,500 867.9,501.9 870.2,502.8 872.1,504.2 873.9,505.9 874.3,508.9 874.9,511.9 873,513.7 871.4,515.8 869.9,517.9 868.9,519.9 871,521.1 872.7,522.8 873.9,524.9 876.2,525.3 877.7,527.1 879.9,527.9 881.3,529.7 882.5,531.6 882.9,533.9 884.8,536.4 886.9,538.9 887.3,541.2 887.9,543.5 887.9,545.8 890.2,548 892.9,549.8 894.2,552.1 895.6,554.3 897.8,555.8 899.9,557.1 902.1,558.2 903.8,559.8 905.9,562 908.8,562.8 911.4,563.6 913.8,564.8 915.1,562.4 915.8,559.8 916.1,556.6 917.8,553.8 918.7,550.9 918.8,547.8 918.7,545.1 919,542.5 919.8,539.9 920.8,537.5 922.8,535.9 923.6,533.3 924.8,530.9 927.7,529.7 930.8,528.9 933.1,528.1 935.5,527.9 937.8,526.9 939.8,525.9 941.5,524.4 943.8,523.9 946.8,523 949.8,521.9 950.7,519.5 952.8,517.9 953.8,515.1 955.7,512.9 955.7,510.3 954.7,507.9Z"/>
<path class="c4" d="M863.9,497.9 864.1,494.9 864.9,491.9 866.3,489.4 867.9,486.9 869.9,485.5 872,484.4 873.9,482.9 877,483.1 879.9,481.9 881,479.5 880.9,476.9 879.1,475.4 877,474.2 875.9,471.9 875.4,469.7 873.9,467.9 872.6,465.9 871.5,463.7 869.9,461.9 868.3,459.8 865.7,458.8 863.9,456.9 862.1,454.7 859.9,453 858.6,451.9 856.1,451 853.6,449.9 851.2,450.2 848.9,449.7 846.6,448.9 844.3,449.9 842,450.8 839.6,451.9 837.9,453.6 836.3,455.4 835.6,457.9 834.6,460.2 833.9,462.6 832.7,464.8 832.2,468 830.7,470.8 827.4,471.1 824.7,472.8 822.9,474.3 821,475.5 818.7,475.8 817.7,478.7 815.7,480.8 813.4,481.3 811.9,483.2 809.7,483.8 806.9,485.4 803.7,485.8 802.2,488 800.4,489.8 798.7,491.8 796.9,494.2 795.6,496.9 795.7,500 796.6,502.9 793.6,503.4 790.6,502.9 789.1,505.4 786.6,506.9 786.9,509.3 786.4,511.6 785.6,513.9 786.3,516.2 786.8,518.6 787.6,520.9 786.7,523.2 786.9,525.6 786.6,527.9 787.6,530.4 788.6,532.9 791.1,532.8 793.6,532.9 796.1,530.7 797.6,527.9 799.1,526 800.7,524.2 801.6,521.9 801,519.2 802,516.6 801.6,513.9 803.8,511.8 804.6,508.9 806.8,509.7 808,511.8 810,512.9 812.9,514.2 816,513.9 818.5,515.3 821,516.9 823.4,514.7 825,511.9 827.4,510.7 830,509.9 832.6,510.3 835.3,509.4 838,509.9 840.9,509.3 843.9,508.9 843.7,506.3 842.9,503.9 844.5,501.4 845.9,498.9 848.4,497.9 850.9,496.9 853.4,497.5 855.5,499 857.9,499.9 860.8,498.7Z"/>
<path class="c3" d="M868.9,519.9 869.9,517.9 871.4,515.8 873,513.7 874.9,511.9 874.3,508.9 873.9,505.9 872.1,504.2 870.2,502.8 867.9,501.9 865.8,500 863.9,497.9 860.8,498.7 857.9,499.9 855.5,499 853.4,497.5 850.9,496.9 848.4,497.9 845.9,498.9 844.5,501.4 842.9,503.9 843.7,506.3 843.9,508.9 840.9,509.3 838,509.9 835.3,509.4 832.6,510.3 830,509.9 827.4,510.7 825,511.9 823.4,514.7 821,516.9 818.5,515.3 816,513.9 812.9,514.2 810,512.9 808,511.8 806.8,509.7 804.6,508.9 803.8,511.8 801.6,513.9 802,516.6 801,519.2 801.6,521.9 800.7,524.2 799.1,526 797.6,527.9 796.1,530.7 793.6,532.9 791.1,532.8 788.6,532.9 786.2,533 784.2,535 781.7,534.9 778.9,535.9 776.7,537.9 775.7,539.9 774.4,541.8 773.7,543.9 772.6,546.8 772.9,550 773.5,552.6 774.9,555.1 774.9,558 777.7,559.6 779.9,562 780.6,564.6 781.9,567 780.2,569.7 777.9,572 775.7,574 772.9,574.9 772.1,577.5 770.9,579.9 770.9,582.3 773.1,582.2 775.3,581.4 777.7,581.8 779.9,580.9 782.8,582 785.9,582.9 786.2,578.9 786.9,575.9 787.8,573 790.1,570.7 792.8,569 794.6,567.5 796.2,565.8 798.2,564.6 799.8,563 801.8,561.8 803.8,560.7 805.9,559.9 808.1,559.1 810,557.8 812.1,557 814,555.8 817,555.5 820,554.8 821.8,553.6 823.8,552.5 826,551.8 825.1,549.8 824,547.8 824.2,545.4 823.9,543.1 823,540.9 825.5,540.5 828,539.9 831,539.9 834,539.9 835.9,538.4 838.2,537.6 840,535.9 842.3,533.7 844.9,531.9 845,529.3 843.9,526.9 845.8,525.2 847.9,523.9 850.6,523.4 853.3,522.7 855.9,521.9 858.9,520.9 861.9,519.9 864.2,519.1 866.6,519.6Z"/>
<path class="c3" d="M913.8,564.8 911.4,563.6 908.8,562.8 905.9,562 903.8,559.8 902.1,558.2 899.9,557.1 897.8,555.8 895.6,554.3 894.2,552.1 892.9,549.8 890.2,548 887.9,545.8 887.9,543.5 887.3,541.2 886.9,538.9 884.8,536.4 882.9,533.9 882.5,531.6 881.3,529.7 879.9,527.9 877.7,527.1 876.2,525.3 873.9,524.9 872.7,522.8 871,521.1 868.9,519.9 866.6,519.6 864.2,519.1 861.9,519.9 858.9,520.9 855.9,521.9 853.3,522.7 850.6,523.4 847.9,523.9 845.8,525.2 843.9,526.9 845,529.3 844.9,531.9 842.3,533.7 840,535.9 838.2,537.6 835.9,538.4 834,539.9 831,539.9 828,539.9 825.5,540.5 823,540.9 823.9,543.1 824.2,545.4 824,547.8 825.1,549.8 826,551.8 823.8,552.5 821.8,553.6 820,554.8 817,555.5 814,555.8 812.1,557 810,557.8 811.8,559.4 814.2,560.2 816,561.8 818,563.2 818.9,565.6 821,566.8 823.3,568.6 826,569.8 828.1,569.1 829.9,567.6 832,566.8 834.5,565.6 837.2,565.3 840,564.8 842.4,565 844.4,566.8 846.9,566.8 846.2,569.3 845.9,571.8 847.5,573.6 847.9,575.9 848.7,577.9 851.1,579.7 853.7,580.9 854.7,584.9 857.1,583.5 859.7,582.9 861.8,582.1 863.8,581.1 865.7,579.9 867.6,581.1 869.5,582.3 871.7,582.9 874.7,583.9 877.7,584.9 880.1,584 882.7,583.9 884,586.8 884.7,589.9 887.7,591.9 888.2,592.3 888.7,591.9 890.9,590.9 893.3,590.6 895.6,589.9 898.3,589.5 901,590 903.6,589.9 905.7,589.1 907.3,587.3 909.6,586.9 911.5,584.9 912.9,582.6 913.6,579.9 914.6,577.4 914.4,574.5 915.6,572 915,569.6 914.7,567.1Z"/>
<path class="c2" d="M810,557.8 808.1,559.1 805.9,559.9 803.8,560.7 801.8,561.8 799.8,563 798.2,564.6 796.2,565.8 794.6,567.5 792.8,569 790.1,570.7 787.8,573 786.9,575.9 786.2,578.9 785.9,582.9 785.7,585.3 787.2,587.5 786.8,589.9 788.8,591.9 791.7,592.2 793.8,593.9 796.8,595 799.8,595.9 801.7,597.1 803.7,598.2 805.8,598.9 807.5,601.1 807.8,603.9 810.9,604.6 813.8,605.9 815.7,607.1 817.9,607.7 819.8,608.9 822.3,607.7 825.3,608.2 827.8,606.9 830.6,607.8 832.8,609.9 834.2,612.4 835.8,614.9 837.6,616.2 840,616.4 841.8,617.9 843.6,620.1 844.7,622.9 845.8,625.1 847.1,627.1 848.7,628.9 851.2,629.2 853.7,628.9 856,627.9 857.7,626.1 859.7,624.9 861.8,623.7 863.1,621.6 864.7,619.9 866.2,618.1 868,616.5 869.7,614.9 872,614.2 874.5,613.9 876.7,612.9 879,613.2 881.3,613 883.7,612.9 884.2,610.4 884.7,607.9 885.3,604.8 886.7,601.9 885.5,599 885.7,595.9 886.7,593.6 888.2,592.3 887.7,591.9 884.7,589.9 884,586.8 882.7,583.9 880.1,584 877.7,584.9 874.7,583.9 871.7,582.9 869.5,582.3 867.6,581.1 865.7,579.9 863.8,581.1 861.8,582.1 859.7,582.9 857.1,583.5 854.7,584.9 853.7,580.9 851.1,579.7 848.7,577.9 847.9,575.9 847.5,573.6 845.9,571.8 846.2,569.3 846.9,566.8 844.4,566.8 842.4,565 840,564.8 837.2,565.3 834.5,565.6 832,566.8 829.9,567.6 828.1,569.1 826,569.8 823.3,568.6 821,566.8 818.9,565.6 818,563.2 816,561.8 814.2,560.2 811.8,559.4Z"/>
<path class="c4" d="M848.7,628.9 847.1,627.1 845.8,625.1 844.7,622.9 843.6,620.1 841.8,617.9 840,616.4 837.6,616.2 835.8,614.9 834.2,612.4 832.8,609.9 830.6,607.8 827.8,606.9 825.3,608.2 822.3,607.7 819.8,608.9 817.9,607.7 815.7,607.1 813.8,605.9 810.9,604.6 807.8,603.9 807.5,601.1 805.8,598.9 803.7,598.2 801.7,597.1 799.8,595.9 796.8,595 793.8,593.9 791.7,592.2 788.8,591.9 786.8,589.9 787.2,587.5 785.7,585.3 785.9,582.9 782.8,582 779.9,580.9 777.7,581.8 775.3,581.4 773.1,582.2 770.9,582.3 768.2,582.2 765.9,580.9 764.1,579.1 761.9,577.9 759.5,576.9 757.9,574.9 757,578 755.9,580.9 753.1,581.2 750.5,581.9 747.9,582.9 746.3,584.7 744,585.6 742.5,587.2 742.3,587.3 739.9,587.9 740.5,590.6 741,593.2 740.9,595.9 742.8,597.5 743.5,600 744.9,601.9 745.1,604.4 746.9,606.4 746.9,608.9 745.5,611.9 742.9,613.9 742.5,616.2 740.9,617.9 743.4,618.2 745.7,617.7 747.9,616.9 746.6,619.5 744.6,621.6 742.9,623.9 741.9,627.9 743.2,630.2 744.9,632.2 746.9,633.9 747.5,636.1 748.3,638.2 749.9,639.9 752.3,639.9 754.7,639.9 756.9,638.9 759.4,640.4 761.9,641.9 763.7,643.5 765.9,644.5 767.9,645.9 769.9,644.9 769.9,642.3 770.9,639.9 772.9,637.9 774.9,635.9 777.7,634.2 779.9,631.9 782.2,630.6 783.5,628.1 785.9,626.9 788.9,626.8 791.8,627.9 794,629 796.2,630 797.8,631.9 799.9,632.8 801.8,633.9 803.8,634.9 805.5,636.6 808,637.2 809.8,638.9 812.1,638.2 814.5,638.7 816.8,637.9 819.5,636.2 821.8,633.9 824.6,635.1 827.8,634.9 830.6,636.4 832.8,638.9 835,637 837.8,635.9 840,635.4 841.8,633.9 843.8,632.9 845.7,631.9Z"/>
<path class="c4" d="M739.9,587.9 742.3,587.3 742.5,587.2Z"/>
<path class="c3" d="M742.5,587.2 744,585.6 746.3,584.7 747.9,582.9 750.5,581.9 753.1,581.2 755.9,580.9 757,578 757.9,574.9 759.5,576.9 761.9,577.9 764.1,579.1 765.9,580.9 768.2,582.2 770.9,582.3 770.9,579.9 772.1,577.5 772.9,574.9 775.7,574 777.9,572 780.2,569.7 781.9,567 780.6,564.6 779.9,562 777.7,559.6 774.9,558 774.9,555.1 773.5,552.6 772.9,550 772.6,546.8 773.7,543.9 774.4,541.8 775.7,539.9 776.7,537.9 776,535.4 774.4,533.3 773.7,530.9 771.7,529.5 770.2,527.7 768.7,525.9 766.1,524.5 763.7,522.9 761,521.7 758.7,519.9 759.9,517 760.7,513.9 758.8,512.3 756.7,510.9 755.5,508.8 753.2,507.8 751.7,505.9 751.1,503.4 749.5,501.4 748.7,498.9 746.7,497.3 745.4,494.9 743.7,492.9 741.4,491.4 738.7,490.9 736.6,492.1 734.4,493 732.8,494.9 733.7,498.9 735.2,500.8 736.6,502.8 738.7,503.9 738.3,506.2 736.4,507.8 735.7,509.9 734.4,511.9 733.7,514 733.6,514.3 731.8,515.9 730.2,518.4 727.8,519.9 726.2,522.7 725.8,525.9 726.3,529.1 727.8,531.9 728.8,534.8 728.8,537.9 730,542 728.9,544.9 729,548 730.3,550.9 730.9,554 729,555.6 727.7,557.6 727,560 726.2,562.5 724.3,564.5 723.9,567.1 723.5,569.8 722,572 721.7,574.5 721,576.9 722.7,579.3 724,581.9 724.7,585 726,587.9 727.8,589.6 730,590.9 732.6,590.6 735.1,590 737.3,588.2 739.9,587.9Z"/>
<path class="c4" d="M769.9,644.9 767.9,645.9 765.9,644.5 763.7,643.5 761.9,641.9 759.4,640.4 756.9,638.9 754.7,639.9 752.3,639.9 749.9,639.9 748.3,638.2 747.5,636.1 746.9,633.9 744.9,632.2 743.2,630.2 741.9,627.9 742.9,623.9 744.6,621.6 746.6,619.5 747.9,616.9 745.7,617.7 743.4,618.2 740.9,617.9 742.5,616.2 742.9,613.9 745.5,611.9 746.9,608.9 746.9,606.4 745.1,604.4 744.9,601.9 743.5,600 742.8,597.5 740.9,595.9 741,593.2 740.5,590.6 739.9,587.9 737.3,588.2 735.1,590 732.6,590.6 730,590.9 726,590.9 724.2,592.6 721.9,593.5 720,594.9 717.3,593.9 714.8,592.6 712,591.9 710.4,593.9 708.9,595.8 707.4,597.8 706,599.9 704.1,601.7 701.7,602.9 699.8,604.8 696.7,604 693.8,602.8 691.5,600.6 689.8,597.8 687.7,599.1 685.8,600.8 683.8,602.1 681.7,603.3 679.8,604.8 678.9,607.7 676.8,609.9 675,612.2 673.8,614.9 676.2,617 678.8,618.9 677.3,621.4 674.8,622.9 675,625.5 675.8,627.9 674.7,630.9 673.8,633.9 674.1,637 672.8,639.9 674.5,642.5 674.8,645.5 678.8,644.9 681.8,645.7 684.8,645.9 687,644.2 689.8,643.9 692.3,645.3 694.8,646.9 697.5,647.5 700,648.9 703,649.1 706,649.9 706.7,652 708,653.8 708.3,657.1 710,659.8 712.6,659.5 715.3,660 718,659.8 719.8,661.2 721.7,662.4 724,662.8 727,663.6 730,664.8 732.6,664.3 735.2,663.6 737.9,663.8 741,663.7 743.9,664.8 743.8,667.4 742.9,669.8 744.4,672.7 744.9,675.8 745.5,678.1 746.3,680.4 745.9,682.8 748.9,683.8 750.4,681.5 750.9,678.8 751.5,676.3 752.3,673.9 753.9,671.8 755.5,670.1 755.5,667.6 756.9,665.8 757.4,663.6 759.4,662.1 759.9,659.8 761.2,657.2 762.9,654.8 764.7,652.5 765.9,649.9 768.2,647.6Z"/>
<path class="c2" d="M660.9,505.9 661.2,508.4 662.2,510.6 662.9,512.9 665.8,514.3 667.9,516.9 669.9,516 672,515.3 673.9,513.9 675.2,515.9 677.4,517 678.8,518.9 681,521 683.8,521.9 684.5,524.1 685.2,526.2 686.8,527.9 688.4,530.3 689.8,532.9 692.9,533 695.8,531.9 698.4,531.3 700.8,529.9 702.7,532.4 704.8,534.9 707.3,534.2 709.8,533.9 712.4,535.7 714.8,537.9 716.9,539.9 719.8,540.9 722.1,540.1 723.4,537.7 725.8,536.9 728.8,537.9 728.8,534.8 727.8,531.9 726.3,529.1 725.8,525.9 726.2,522.7 727.8,519.9 730.2,518.4 731.8,515.9 730,514.4 727.8,513.9 725,512.8 722.8,510.9 725.8,507.9 726.9,505.6 726.8,502.9 724.4,500.7 722.8,497.9 721.7,495.9 720.9,493.8 721.9,491 723.9,488.8 725.4,486.4 726.8,483.8 724.6,482.9 722,483.1 719.9,481.8 717.4,479.8 714.9,477.8 715.3,475.1 716.9,472.8 719.1,472.2 720.9,470.8 718.5,469.8 716.4,468.4 713.9,467.8 711.3,466.8 708.5,466.7 705.9,465.8 703.4,464.6 700.5,464.6 697.9,463.8 695.7,464.5 693.9,465.8 691.6,465.5 689.2,465.5 686.9,464.8 684.8,467 683.9,469.8 681.3,470.6 678.7,471.4 675.9,471.8 673.2,472.2 670.6,471.5 668,470.8 665,473.8 663.7,476.8 663,479.8 663.6,482 664.7,483.9 666,485.8 664.8,488.8 664,491.8 662.5,493.9 660.9,495.9 661.5,498.6 662.9,500.9 662.5,503.7Z"/>
<path class="c4" d="M728.8,537.9 725.8,536.9 723.4,537.7 722.1,540.1 719.8,540.9 716.9,539.9 714.8,537.9 712.4,535.7 709.8,533.9 707.3,534.2 704.8,534.9 702.7,532.4 700.8,529.9 698.4,531.3 695.8,531.9 692.9,533 689.8,532.9 688.4,530.3 686.8,527.9 685.2,526.2 684.5,524.1 683.8,521.9 681,521 678.8,518.9 677.4,517 675.2,515.9 673.9,513.9 672,515.3 669.9,516 667.9,516.9 665.8,514.3 662.9,512.9 662.2,510.6 661.2,508.4 660.9,505.9 658.3,504 655.9,501.9 654.4,504.8 651.9,506.9 648.8,507.8 645.9,508.9 644.8,511.2 644.5,513.9 642.9,515.9 643.1,518.6 641.8,521.2 641.9,523.9 644.4,526 645.9,528.9 647.5,531.3 649.9,532.9 648.6,535 648.1,537.4 647.9,539.9 649.4,542.2 649.9,544.9 648.2,546.7 645.9,547.6 643.9,548.9 644.9,551.4 645.9,553.9 648.1,556 648.9,558.9 648.6,561.4 647.9,563.9 645.8,566.3 642.9,567.9 641.2,569.5 641.4,572.1 639.9,573.8 642.4,575.4 643.9,577.8 646.9,580.8 649.3,582.5 651.9,583.8 653.8,585.4 655.9,586.5 657.9,587.8 660.9,588.8 663.9,589.8 667,589.8 669.9,590.8 671.7,592.4 673.9,593.5 675.9,594.8 676.6,596.9 677.8,598.9 678.8,600.8 679.8,604.8 681.7,603.3 683.8,602.1 685.8,600.8 687.7,599.1 689.8,597.8 691.5,600.6 693.8,602.8 696.7,604 699.8,604.8 701.7,602.9 704.1,601.7 706,599.9 707.4,597.8 708.9,595.8 710.4,593.9 712,591.9 714.8,592.6 717.3,593.9 720,594.9 721.9,593.5 724.2,592.6 726,590.9 730,590.9 727.8,589.6 726,587.9 724.7,585 724,581.9 722.7,579.3 721,576.9 721.7,574.5 722,572 723.5,569.8 723.9,567.1 724.3,564.5 726.2,562.5 727,560 727.7,557.6 729,555.6 730.9,554 730.3,550.9 729,548 728.9,544.9 730,542ZM671.9,553.9 673.3,551.4 672.7,548.4 673.9,545.9 675.1,543 675.9,539.9 679.8,540.9 681.6,542.5 683.7,543.7 685.8,544.9 687.5,543.3 689.9,543.1 691.8,541.9 694.2,539.7 696.8,537.9 698.9,540.3 700.8,542.9 702.9,545 705.8,545.9 708.4,546.8 711.1,547.1 713.8,547.9 713.4,550.9 712.8,553.9 712.1,556.3 711.5,558.8 709.8,560.9 710,563.2 709.8,565.6 710.8,567.9 709.8,570.8 708.8,573.8 707,575.2 704.8,575.8 700.8,574.8 700.4,572.1 698.8,569.9 696.4,568.1 693.8,566.9 692,565.4 689.9,564.6 687.8,563.9 685.7,563.1 683.9,561.7 681.8,560.9 679,559.4 675.9,558.9 674.1,556.2Z"/>
<path class="c3" d="M733.7,514 731.8,515.9 733.6,514.3Z"/>
<path class="c2" d="M671.9,553.9 674.1,556.2 675.9,558.9 679,559.4 681.8,560.9 683.9,561.7 685.7,563.1 687.8,563.9 689.9,564.6 692,565.4 693.8,566.9 696.4,568.1 698.8,569.9 700.4,572.1 700.8,574.8 704.8,575.8 707,575.2 708.8,573.8 709.8,570.8 710.8,567.9 709.8,565.6 710,563.2 709.8,560.9 711.5,558.8 712.1,556.3 712.8,553.9 713.4,550.9 713.8,547.9 711.1,547.1 708.4,546.8 705.8,545.9 702.9,545 700.8,542.9 698.9,540.3 696.8,537.9 694.2,539.7 691.8,541.9 689.9,543.1 687.5,543.3 685.8,544.9 683.7,543.7 681.6,542.5 679.8,540.9 675.9,539.9 675.1,543 673.9,545.9 672.7,548.4 673.3,551.4Z"/>
<path class="c3" d="M643.9,548.9 645.9,547.6 648.2,546.7 649.9,544.9 649.4,542.2 647.9,539.9 648.1,537.4 648.6,535 649.9,532.9 647.5,531.3 645.9,528.9 644.4,526 641.9,523.9 641.8,521.2 643.1,518.6 642.9,515.9 644.5,513.9 644.8,511.2 645.9,508.9 648.8,507.8 651.9,506.9 654.4,504.8 655.9,501.9 658.3,504 660.9,505.9 662.5,503.7 662.9,500.9 661.5,498.6 660.9,495.9 662.5,493.9 664,491.8 664.8,488.8 666,485.8 664.7,483.9 663.6,482 663,479.8 663.7,476.8 665,473.8 662.1,472.3 660,469.8 657.3,468.8 654.7,467.6 652,466.8 649.9,466 648,464.8 646,463.8 644.5,462.1 643.3,460.1 640.9,459.1 640,456.9 636.6,454.9 634.7,453.7 632.5,453.3 630.7,451.9 628.4,450.9 626.1,450.3 623.7,449.9 622.2,448.1 620.5,446.5 618.7,444.9 616.2,444.3 613.7,444.9 611.3,443.2 608.7,441.9 607.5,444 605,444.9 603.7,446.9 601.2,448.9 598.7,450.9 595.8,450.2 592.7,449.9 589.8,451.4 587.7,453.9 585.9,455.6 585.6,458.2 583.7,459.9 583.1,462.5 581.8,464.9 579.2,467 577.8,469.9 577.9,473 576.8,475.9 577.8,478.8 577.8,481.9 576.2,483.6 575.8,485.9 576.8,487.9 578.1,489.7 578.8,491.9 580.9,493.5 582.3,495.7 583.7,497.9 584.9,500.3 586.9,502.2 587.7,504.9 588.1,507.3 587.6,509.6 586.7,511.9 585.1,513.5 584.5,515.7 583.7,517.8 584.8,520.7 584.7,523.8 586.7,526.8 588.1,528.9 590,529.9 592.7,529.9 595.4,529.8 598,528.9 599.7,530.4 601.8,531.2 604,531.9 606.7,532.3 609.3,533.2 612,533.9 614.1,536.3 616,538.9 618.4,537.9 620.9,536.9 623.3,535.9 625.9,535.9 627.6,538.2 630.2,539.6 631.9,541.9 633.5,544.3 636,545.8 637.9,547.9 640.9,548.4Z"/>
<path class="c4" d="M646.9,580.8 643.9,577.8 642.4,575.4 639.9,573.8 641.4,572.1 641.2,569.5 642.9,567.9 645.8,566.3 647.9,563.9 648.6,561.4 648.9,558.9 648.1,556 645.9,553.9 644.9,551.4 643.9,548.9 640.9,548.4 637.9,547.9 636,545.8 633.5,544.3 631.9,541.9 630.2,539.6 627.6,538.2 625.9,535.9 623.3,535.9 620.9,536.9 618.4,537.9 616,538.9 614.1,536.3 612,533.9 609.3,533.2 606.7,532.3 604,531.9 601.8,531.2 599.7,530.4 598,528.9 595.4,529.8 592.7,529.9 590,529.9 588.1,528.9 588,528.8 586.7,526.8 584.4,527.1 582.1,526.2 579.8,526.8 576.7,527 573.8,527.8 573.3,530.1 571.1,531.5 570.8,533.8 569.5,536 567.8,537.8 564.7,538.7 561.8,539.8 560.3,542.3 557.8,543.8 556.4,546.5 554.8,549 554.8,551.6 555.8,554 556.8,556 557.3,558.2 558.8,560 558.7,562.7 559.9,565.2 559.8,568 558.8,570.2 558.5,572.5 558.8,574.9 557.5,577.6 555.8,579.9 553.6,581.8 551.8,583.9 548.9,584.8 546.8,586.9 545.1,589.3 543.8,591.9 542.9,594.9 541.8,597.9 539.2,600 537.8,602.9 535.8,605.9 538,607.1 539.8,608.9 542.4,609.5 544.8,610.9 547,613.2 549.8,614.9 552.1,615 554.5,615 556.8,615.9 558.8,614.6 560.8,613.3 562.8,611.9 565.1,610.6 567.7,610.9 570.8,610.7 573.7,609.9 575.5,608.3 578,607.6 579.7,605.9 581.5,604.3 583.5,602.9 585.7,601.9 587.6,600.2 590.1,599.1 591.7,596.9 594,596.8 596.3,595.7 598,593.8 600.7,592.1 604,591.8 606.1,592.9 607.9,594.6 610,595.8 612.2,595.4 614,594 616,592.8 618.7,592.4 621.2,593.8 623.9,593.8 625.9,592.5 627.8,590.9 629.9,589.8 632.5,587.9 634.9,585.8 637,585 638.6,583.3 640.9,582.8 643.7,581.2Z"/>
<path class="c3" d="M679.8,604.8 678.8,600.8 677.8,598.9 676.6,596.9 675.9,594.8 673.9,593.5 671.7,592.4 669.9,590.8 667,589.8 663.9,589.8 660.9,588.8 657.9,587.8 655.9,586.5 653.8,585.4 651.9,583.8 649.3,582.5 646.9,580.8 643.7,581.2 640.9,582.8 638.6,583.3 637,585 634.9,585.8 632.5,587.9 629.9,589.8 627.8,590.9 625.9,592.5 623.9,593.8 621.2,593.8 618.7,592.4 616,592.8 614,594 612.2,595.4 610,595.8 607.9,594.6 606.1,592.9 604,591.8 600.7,592.1 598,593.8 596.3,595.7 594,596.8 591.7,596.9 590.1,599.1 587.6,600.2 585.7,601.9 583.5,602.9 581.5,604.3 579.7,605.9 578,607.6 575.5,608.3 573.7,609.9 570.8,610.7 567.7,610.9 565.1,610.6 562.8,611.9 560.8,613.3 558.8,614.6 556.8,615.9 554.5,615 552.1,615 549.8,614.9 548.9,617.4 547.8,619.9 544.8,622.9 546.5,624.5 548.7,625.1 550.8,625.9 553.9,626.6 556.8,627.9 559.1,628.7 560.8,630.5 562.8,631.9 565.1,633.6 567.7,634.9 570.7,634.5 573.7,634.9 576.1,634.5 577.4,632.2 579.7,631.9 582.3,632.9 585.1,632.2 587.7,632.9 589.6,634.4 591.7,635.5 593.7,636.9 595.7,638.2 597.5,639.8 599.7,640.9 602.2,642.9 603.7,645.9 605.7,647.1 607.2,649.2 609.7,649.9 611.3,651.8 613.5,652.8 615.6,653.8 617.9,654.8 619.8,656.2 621.6,657.8 624.4,657.5 627,658.6 629.6,658.8 632.3,658.6 635,659.4 637.6,658.8 640.4,658.1 643.1,659.4 645.9,658.9 648.6,658.9 651.1,660.1 653.9,659.9 656.6,659.6 659.2,660.2 661.8,660.9 664.7,659.8 667.8,659.9 668.6,657.5 670.2,655.7 671.8,653.9 672.1,651.6 673.2,649.6 674.2,647.6 674.8,645.5 674.5,642.5 672.8,639.9 674.1,637 673.8,633.9 674.7,630.9 675.8,627.9 675,625.5 674.8,622.9 677.3,621.4 678.8,618.9 676.2,617 673.8,614.9 675,612.2 676.8,609.9 678.9,607.7Z"/>
<path class="c2" d="M624.6,410.2 621.7,410 624.4,410.3Z"/>
<path class="c2" d="M592.7,449.9 589.7,447.9 589.1,445.5 588.7,442.9 586.6,440.8 583.7,439.9 581,439.1 578.7,437.2 575.8,436.9 573.9,434.8 572.2,432.5 569.8,430.9 567.3,429.9 565,428.4 562.8,426.9 560.5,426.1 558,426.9 555.8,425.9 553.5,425.4 551.1,425.6 548.8,425 546.9,423.2 544.4,422.1 542.8,420 540.4,418.4 539.3,415.5 536.8,414 534,415.6 531.8,418 529.4,418.7 527.9,420.7 525.9,422 526.7,424.9 526.8,427.9 524.5,428.6 522.3,429.9 519.9,429.9 517.5,430.3 516.1,432.3 513.9,432.9 511.8,433.8 510,435.3 508,436.2 505.9,436.9 503.3,438 500.4,437.6 497.9,438.9 496.8,441.9 495.9,444.9 494.3,447.7 491.9,449.9 492.3,452.2 493.3,454.2 494.9,455.9 497.1,457 498.6,458.9 499.9,460.9 500.7,463.8 500.9,466.9 503.3,467.4 505.5,468.3 507.9,468.9 510.5,468.1 513.3,468 515.9,466.9 518,468 519.6,470 521.9,470.9 524.1,471.4 526.1,472.4 527.8,473.9 527.5,476.2 526.4,478.2 524.9,479.9 524.9,483 523.9,485.9 522.9,489.9 524.1,492 525.9,493.9 528.8,494.4 531.8,493.9 533.9,494.8 536,495.5 537.8,496.9 540.8,497 543.8,496.9 546.4,497.5 548.8,498.9 551.2,499.7 553.8,499.9 553,496.9 552.8,493.9 554.3,492 555.8,490.2 557.8,488.9 560.9,488.8 563.8,489.9 564.3,492.1 565.8,493.9 566.6,491.2 566.4,488.4 567.8,485.9 570.4,485.4 573.1,485.7 575.8,485.9 576.2,483.6 577.8,481.9 577.8,478.8 576.8,475.9 577.9,473 577.8,469.9 579.2,467 581.8,464.9 583.1,462.5 583.7,459.9 585.6,458.2 585.9,455.6 587.7,453.9 589.8,451.4Z"/>
<path class="c1" d="M491.9,449.9 488.9,449 485.9,447.9 484,446.7 481.7,446.3 479.9,444.9 478.4,442.7 475.7,441.9 473.9,439.9 471.5,438.8 470.5,436 467.9,434.9 466.5,432 464,429.9 460.9,429.3 458,427.9 456.5,425.1 456,422 455.2,418.9 454,416 453.7,413.6 452.6,411.4 453,409 450.2,409.5 447.4,409.2 444.6,410 441.6,409.8 438.7,409 436.4,408.8 434.1,409 431.9,409.4 429.7,410 427.6,409.2 426,407.4 423.7,407 421.5,405 418.7,404 418.9,406.5 419.7,409 418.6,411.5 417.7,414 415.3,415.1 412.7,415 409.8,416.2 406.7,416 404.2,414.8 401.3,415.1 398.7,414 395.8,415.1 392.8,416 390.5,414.9 388.1,415.4 385.8,415 386.4,417.6 387.8,420 385.1,421.8 382.8,424 382,426.2 382.3,428.6 381.8,430.9 382.4,433.9 382.8,436.9 382.3,439.4 381.8,441.9 383.5,443.4 386.1,443.3 387.8,444.9 389.7,445.9 391.8,446.8 393.7,447.9 395.6,449.6 396.8,451.7 397.7,453.9 397.1,457 395.7,459.9 396.9,462.9 397.7,465.9 395.6,467.7 393.7,469.9 392.5,472.3 392.8,474.9 390.1,475.6 387.8,476.9 387.9,479.9 387.8,482.9 390.9,483.3 393.7,484.9 396.5,484.8 399,485.8 401.7,485.9 404.8,486.6 407.7,487.9 409.7,489.2 412,490 413.7,491.9 415.7,490.3 416.3,487.8 417.7,485.9 419.7,484.6 421.3,482.6 423.7,481.9 424.8,478.9 425.7,475.9 427.7,473.9 429.7,471.9 431.4,470.4 433.7,469.9 435.7,471.6 438.3,472.7 440,474.9 443,475.1 446,475.9 448,477.5 448,480.3 450,481.9 452.6,481.8 455,482.9 454.8,480.3 456,477.9 457.8,476.6 460,475.9 462,474.9 463.9,472.9 465.9,470.9 468.5,472 471.3,471.4 473.9,471.9 476.6,471.3 479.3,470.5 481.9,469.9 484.4,469.9 486.4,471.8 488.9,471.9 491.2,469.6 493.9,467.9 496.2,467.6 498.5,467.1 500.9,466.9 500.7,463.8 499.9,460.9 498.6,458.9 497.1,457 494.9,455.9 493.3,454.2 492.3,452.2Z"/>
<path class="c1" d="M525.9,493.9 524.1,492 522.9,489.9 523.9,485.9 524.9,483 524.9,479.9 526.4,478.2 527.5,476.2 527.8,473.9 526.1,472.4 524.1,471.4 521.9,470.9 519.6,470 518,468 515.9,466.9 513.3,468 510.5,468.1 507.9,468.9 505.5,468.3 503.3,467.4 500.9,466.9 498.5,467.1 496.2,467.6 493.9,467.9 491.2,469.6 488.9,471.9 486.4,471.8 484.4,469.9 481.9,469.9 479.3,470.5 476.6,471.3 473.9,471.9 471.3,471.4 468.5,472 465.9,470.9 463.9,472.9 462,474.9 460,475.9 457.8,476.6 456,477.9 454.8,480.3 455,482.9 453.4,485 452.8,487.5 452,489.9 453.6,492.3 454.2,495.1 455,497.9 454,500.5 453.7,503.2 453,505.9 452.4,508.5 451.6,511.1 452,513.8 451.6,516.3 450.3,518.4 450,520.8 451.8,522.5 453.2,524.5 454,526.8 453.8,529.9 453,532.8 454.8,535.5 457,537.8 459.6,539.6 462,541.8 464.7,541.4 467.3,542.4 469.9,542.8 472.3,543.8 475,543.6 477.5,544.1 479.9,544.8 481.1,547.2 480.9,550 483.5,549.9 485.9,551 488,552.8 489.9,555 492.1,553.4 494.9,553 497,554.2 499.3,555 501.9,555 503.5,553.3 504.3,551.2 504.9,549 505.4,546.7 506.3,544.6 507.9,542.8 510.5,542.5 512.5,540.7 514.9,539.8 516.2,536.9 516.9,533.8 518.4,532.1 518.2,529.5 519.9,527.8 521.4,525 523.9,522.8 522.4,520.3 520.9,517.8 521.3,514.8 521.9,511.9 521.2,509.7 519.7,507.9 518.9,505.9 518.5,503.4 519.3,501.2 519.9,498.9 521.8,497.1 523.7,495.3Z"/>
<path class="c2" d="M575.8,485.9 573.1,485.7 570.4,485.4 567.8,485.9 566.4,488.4 566.6,491.2 565.8,493.9 564.3,492.1 563.8,489.9 560.9,488.8 557.8,488.9 555.8,490.2 554.3,492 552.8,493.9 553,496.9 553.8,499.9 551.2,499.7 548.8,498.9 546.4,497.5 543.8,496.9 540.8,497 537.8,496.9 536,495.5 533.9,494.8 531.8,493.9 528.8,494.4 525.9,493.9 523.7,495.3 521.8,497.1 519.9,498.9 519.3,501.2 518.5,503.4 518.9,505.9 519.7,507.9 521.2,509.7 521.9,511.9 521.3,514.8 520.9,517.8 522.4,520.3 523.9,522.8 521.4,525 519.9,527.8 518.2,529.5 518.4,532.1 516.9,533.8 516.2,536.9 514.9,539.8 512.5,540.7 510.5,542.5 507.9,542.8 506.3,544.6 505.4,546.7 504.9,549 504.3,551.2 503.5,553.3 501.9,555 504.9,554.9 507.8,556 510.7,557 513.8,557 514.1,560.2 515.8,563 515,565.9 514.8,569 516.3,571.5 518.8,573 521.5,573.2 523.6,574.6 525.8,575.9 528.7,577.2 531.8,577.9 534.3,578 536.5,576.8 538.8,575.9 541.1,575.9 543.4,576.2 545.8,575.9 547.4,577.8 548.8,579.9 550.6,581.7 551.8,583.9 553.6,581.8 555.8,579.9 557.5,577.6 558.8,574.9 558.5,572.5 558.8,570.2 559.8,568 559.9,565.2 558.7,562.7 558.8,560 557.3,558.2 556.8,556 555.8,554 554.8,551.6 554.8,549 556.4,546.5 557.8,543.8 560.3,542.3 561.8,539.8 564.7,538.7 567.8,537.8 569.5,536 570.8,533.8 571.1,531.5 573.3,530.1 573.8,527.8 576.7,527 579.8,526.8 582.1,526.2 584.4,527.1 586.7,526.8 584.7,523.8 584.8,520.7 583.7,517.8 584.5,515.7 585.1,513.5 586.7,511.9 587.6,509.6 588.1,507.3 587.7,504.9 586.9,502.2 584.9,500.3 583.7,497.9 582.3,495.7 580.9,493.5 578.8,491.9 578.1,489.7 576.8,487.9Z"/>
<path class="c4" d="M588.1,528.9 586.7,526.8 588,528.8Z"/>
<path class="c2" d="M295.9,434.9 292.9,437.9 291.6,440 289.9,441.9 287.5,443.1 284.9,443.9 282.4,445.9 279.9,447.9 281.8,450 283.9,451.9 282.1,453.2 279.9,453.9 281.6,456.2 281.9,458.9 284.2,460.8 285.5,463.4 286.9,465.9 286.5,468.5 287,471.3 285.9,473.9 284.9,476.1 284.8,478.5 284.9,480.9 286,482.9 286.8,485 287.3,487.2 288.9,488.9 291.2,487.9 293.5,487.5 295.9,487.9 298.7,487.6 301.3,487.8 303.9,488.9 306.9,489.9 309.9,490.9 311.5,491.3 312.1,491.4 313.9,492.9 316.1,491.5 318.2,489.9 319.9,487.9 322.3,486.7 324.1,484.9 325.9,482.9 328.8,481.8 331.9,480.9 332.9,483.8 332.9,486.9 335.2,486.4 337.5,486.6 339.8,486.9 342.4,486.1 345.2,486.8 347.8,485.9 349.8,484.8 352.1,484.5 353.8,482.9 356.4,481 358.8,478.9 361.8,479.8 364.8,480.9 366.5,482.5 368.4,483.9 369.8,485.9 372,487.5 374.8,487.9 376.6,486.4 378.6,485 379.8,482.9 382.4,483.5 385.1,482.5 387.8,482.9 387.9,479.9 387.8,476.9 390.1,475.6 392.8,474.9 392.5,472.3 393.7,469.9 395.6,467.7 397.7,465.9 396.9,462.9 395.7,459.9 397.1,457 397.7,453.9 396.8,451.7 395.6,449.6 393.7,447.9 391.8,446.8 389.7,445.9 387.8,444.9 386.1,443.3 383.5,443.4 381.8,441.9 382.3,439.4 382.8,436.9 382.4,433.9 381.8,430.9 378.7,430.9 375.8,429.9 375.2,427.7 373.6,426 372.8,424 370,423.6 367.8,422 365.3,420.5 363.8,418 361.4,419.2 358.8,420 356.5,419.4 354.2,418.8 351.8,419 350.1,416.4 348.2,414 345.7,415.8 342.8,417 340.8,419.6 337.8,421 336.2,423.7 333.9,425.9 331.5,428.2 329.9,430.9 327.6,428.7 324.9,426.9 323,425.2 320.9,423.6 318.9,422 317,423.2 314.9,423.9 312.9,425 309.7,425.5 306.9,426.9 305.2,428.9 303.3,430.8 301.9,432.9 298.7,433.4Z"/>
<path class="c2" d="M288.9,488.9 287.4,491.2 286.9,493.9 286.9,496.6 286.9,499.3 287.9,501.9 289.5,503.6 290.2,505.7 290.9,507.9 290.6,510.9 289.9,513.8 290.1,516.5 290.6,519.2 290.9,521.8 290.6,524.1 289.1,525.9 287.9,527.8 286,529.6 284.2,531.5 282.9,533.8 281.6,535.6 281.3,538 279.9,539.8 281,542.8 280.9,546 279.3,548.8 276.9,551 278.5,553.4 279.9,556 278.9,558.9 278.9,562 277.5,564.1 275.9,566 278.7,567.6 281.9,568 284.2,569.7 285.9,572 288.5,571.2 291.2,571.7 293.9,572 296.2,572.1 298.4,573.2 300.9,573 302.6,575.2 302.9,578 305.3,578.4 307.5,577.5 309.8,577 312.1,575.1 314.5,573.7 316.8,572 319.2,573.2 321.8,574 323.6,575.8 325.8,577 327.8,579.2 328.8,582 331.1,582.6 333.4,583.3 335.8,583 338.5,583.5 341.1,582.4 343.8,583 346.4,582.3 349.1,582.1 351.8,582 354.4,581.9 356.5,580.4 356.5,577.7 355.5,576.4 356.5,573.9 360,571.9 360.5,568.9 358.5,567.4 356,567.4 352,566.9 349,564.4 345,563.4 344,559.9 340.9,559.5 337.8,559 336.2,556.6 334.4,554.3 332.8,552 331.1,550.3 331.5,547.6 329.8,546 329.1,543.5 328,541.2 326.9,538.8 326.2,536.6 324.2,535.1 323.9,532.8 322.9,530.5 321.6,528.3 320.9,525.8 321.2,523.1 322.8,520.7 322.9,517.8 321.3,516 320.1,513.9 318.9,511.9 319.1,508.8 319.9,505.9 322.4,503.7 323.9,500.9 321.5,499.3 319.9,496.9 318,495.4 315.5,494.8 313.9,492.9 311.5,491.3 309.9,490.9 306.9,489.9 303.9,488.9 301.3,487.8 298.7,487.6 295.9,487.9 293.5,487.5 291.2,487.9Z"/>
<path class="c2" d="M313.9,492.9 312.1,491.4 311.5,491.3Z"/>
<path class="c2" d="M387.8,482.9 385.1,482.5 382.4,483.5 379.8,482.9 378.6,485 376.6,486.4 374.8,487.9 372,487.5 369.8,485.9 368.4,483.9 366.5,482.5 364.8,480.9 361.8,479.8 358.8,478.9 356.4,481 353.8,482.9 352.1,484.5 349.8,484.8 347.8,485.9 345.2,486.8 342.4,486.1 339.8,486.9 337.5,486.6 335.2,486.4 332.9,486.9 332.9,483.8 331.9,480.9 328.8,481.8 325.9,482.9 324.1,484.9 322.3,486.7 319.9,487.9 318.2,489.9 316.1,491.5 313.9,492.9 315.5,494.8 318,495.4 319.9,496.9 321.5,499.3 323.9,500.9 322.4,503.7 319.9,505.9 319.1,508.8 318.9,511.9 320.1,513.9 321.3,516 322.9,517.8 322.8,520.7 321.2,523.1 320.9,525.8 321.6,528.3 322.9,530.5 323.9,532.8 324.2,535.1 326.2,536.6 326.9,538.8 328,541.2 329.1,543.5 329.8,546 331.5,547.6 331.1,550.3 332.8,552 334.4,554.3 336.2,556.6 337.8,559 340.9,559.5 344,559.9 345,563.4 349,564.4 352,566.9 356,567.4 358.5,567.4 360.5,568.9 361.5,564.9 363.5,562.4 365.4,558.9 364.5,554.9 363.5,551 365.9,549 368.9,550 370.9,548 369.4,544.5 370.9,542.4 370.9,540 372.8,538.5 374.9,537.5 377.1,536.6 379.4,537 380.8,534.6 380.8,531.8 382.1,529.8 382.8,527.4 384.8,525.8 385.9,523.9 386.2,521.6 387.8,519.8 387.3,517.1 386.4,514.5 385.8,511.9 387.2,509.3 387.1,506.3 388.8,503.9 388.1,501.2 387,498.6 386.8,495.9 387.7,493.8 388.2,491.6 389.8,489.9 388.6,487.7 388.4,485.2Z"/>
<path class="c2" d="M275.9,566 274.2,567.6 272.2,568.6 269.9,569 267.7,570 265.2,569.4 262.9,570 262.4,572.3 263.3,574.6 262.9,577 260.9,579.1 259.9,582 261.6,583.6 262.4,585.7 262.9,587.9 261.7,590.1 259.1,590.8 257.9,592.9 257.4,596.1 255.9,598.9 255,601.6 254.1,604.3 252.9,606.9 255.3,607.4 257.4,609 259.9,608.9 261.6,610.9 264,612.1 265.9,613.9 266.5,616.1 268.5,617.6 268.9,619.9 269.8,621.9 270.3,624.2 271.9,625.9 274.4,627.4 276.9,628.9 279.5,629.1 281.9,629.9 282.7,632.2 284.7,633.8 285.9,635.9 286.5,638.1 288.5,639.6 288.9,641.9 289.7,644 290.2,646.2 291.9,647.9 294.9,650.9 297.3,651.7 299.9,651.9 302.2,653.6 304.9,654.9 307.1,656 308.8,657.9 310.8,656.5 311.9,654.3 313.8,652.9 314.8,650.4 315.8,647.9 315.6,645.1 316.2,642.5 316.8,639.9 315.3,638.2 315.4,635.6 313.8,633.9 314.5,631.2 313.4,628.6 313.8,625.9 316.3,625.5 318.8,625.8 321.3,626.5 323.8,625.9 326.6,625.9 329.3,625.1 331.8,623.9 334.5,623.6 337.1,625.1 339.8,624.9 342.3,626.4 344.8,627.9 345.1,625.6 346.8,623.9 345.8,621.6 345.9,619.3 345.8,616.9 347.3,614.1 347.8,610.9 348.2,607.7 349.8,604.9 352.4,604.1 354.8,602.9 357.1,601.1 359.8,599.9 361.9,597.8 362.8,594.9 360.9,593.2 359.8,590.9 359.3,588.2 357.8,585.9 357,585.9 356.5,581.9 356.5,580.4 354.4,581.9 351.8,582 349.1,582.1 346.4,582.3 343.8,583 341.1,582.4 338.5,583.5 335.8,583 333.4,583.3 331.1,582.6 328.8,582 327.8,579.2 325.8,577 323.6,575.8 321.8,574 319.2,573.2 316.8,572 314.5,573.7 312.1,575.1 309.8,577 307.5,577.5 305.3,578.4 302.9,578 302.6,575.2 300.9,573 298.4,573.2 296.2,572.1 293.9,572 291.2,571.7 288.5,571.2 285.9,572 284.2,569.7 281.9,568 278.7,567.6Z"/>
<path class="c2" d="M379.4,537 379.7,539.7 381.4,542 382.9,544.5 384.9,542.5 388.9,543.5 390.6,545.4 390.9,548 391.2,550.4 392.4,552.5 394.6,552.8 396.9,553 399.3,553.8 401.9,553.9 405.4,553.9 406.3,556.4 405.9,558.9 407.4,561.1 409.4,562.9 410.6,565.2 412.9,566.4 415.2,567.8 416.9,569.9 420.9,571.4 424.9,572.4 426.2,574.5 427.8,576.4 430.8,577.4 433.1,576.3 435.3,574.9 433.4,573.3 432.8,570.9 435.8,567.9 437.3,563.9 435.2,562.7 432.8,561.9 431.5,560 430.3,557.9 430.4,555.7 429.8,553.5 432.7,554.8 435.8,554.9 439.8,554.9 442.7,554 444.8,552 445.5,549.6 447.3,548 448.7,545.6 448.8,543 447.3,539 449.9,538.6 452,537 454.5,537.6 457,537.8 454.8,535.5 453,532.8 453.8,529.9 454,526.8 453.2,524.5 451.8,522.5 450,520.8 450.3,518.4 451.6,516.3 452,513.8 451.6,511.1 452.4,508.5 453,505.9 453.7,503.2 454,500.5 455,497.9 454.2,495.1 453.6,492.3 452,489.9 452.8,487.5 453.4,485 455,482.9 452.6,481.8 450,481.9 448,480.3 448,477.5 446,475.9 443,475.1 440,474.9 438.3,472.7 435.7,471.6 433.7,469.9 431.4,470.4 429.7,471.9 427.7,473.9 425.7,475.9 424.8,478.9 423.7,481.9 421.3,482.6 419.7,484.6 417.7,485.9 416.3,487.8 415.7,490.3 413.7,491.9 412,490 409.7,489.2 407.7,487.9 404.8,486.6 401.7,485.9 399,485.8 396.5,484.8 393.7,484.9 390.9,483.3 387.8,482.9 388.4,485.2 388.6,487.7 389.8,489.9 388.2,491.6 387.7,493.8 386.8,495.9 387,498.6 388.1,501.2 388.8,503.9 387.1,506.3 387.2,509.3 385.8,511.9 386.4,514.5 387.3,517.1 387.8,519.8 386.2,521.6 385.9,523.9 384.8,525.8 382.8,527.4 382.1,529.8 380.8,531.8 380.8,534.6Z"/>
<path class="c2" d="M420.9,571.4 416.9,569.9 415.2,567.8 412.9,566.4 410.6,565.2 409.4,562.9 407.4,561.1 405.9,558.9 406.3,556.4 405.4,553.9 401.9,553.9 399.3,553.8 396.9,553 394.6,552.8 392.4,552.5 391.2,550.4 390.9,548 390.6,545.4 388.9,543.5 384.9,542.5 382.9,544.5 381.4,542 379.7,539.7 379.4,537 377.1,536.6 374.9,537.5 372.8,538.5 370.9,540 370.9,542.4 369.4,544.5 370.9,548 368.9,550 365.9,549 363.5,551 364.5,554.9 365.4,558.9 363.5,562.4 361.5,564.9 360.5,568.9 360,571.9 356.5,573.9 355.5,576.4 356.5,577.7 357,578.4 356.5,580.4 356.5,581.9 357,585.9 357.8,585.9 359.3,588.2 359.8,590.9 360.9,593.2 362.8,594.9 361.9,597.8 359.8,599.9 357.1,601.1 354.8,602.9 352.4,604.1 349.8,604.9 351.4,606.6 353,608.3 354.8,609.9 357,612.3 359.8,613.9 361.9,615.4 363.5,617.5 365.7,618.9 367.4,620.9 369.3,622.7 371.7,623.9 373.5,625.6 375.4,627.1 377.7,627.9 380.1,629.1 381.5,631.5 383.7,632.9 386,634.6 387.7,636.9 389.7,638.9 389.6,641.3 390.7,643.4 391.7,645.5 391.7,647.9 394,648.2 396.3,649.1 398.7,648.9 401.6,647.6 404.7,646.9 406.4,649.5 408.7,651.9 409.9,654 412.1,655.1 413.6,656.9 416.2,658.9 417.6,661.9 419.3,663.4 421.6,663.8 421.1,666.2 421.5,668.4 423,670.5 422.6,672.8 424.3,670.8 426.6,669.8 429,668.5 431.6,667.8 433.6,665.9 435.6,663.8 436.8,661.3 437.9,658.7 438,655.8 441,652.8 443.2,652.7 445.5,652.9 447.7,653.8 449.9,653.8 452.5,655.3 455.5,655.3 457.9,656.8 456.9,654.7 455.5,652.9 453.1,651.9 451.9,649.9 450.1,647.2 447.9,644.9 447.5,641.7 445.9,638.9 443.5,638.1 441.9,636 439.6,634.9 437.9,632.8 437,630.2 435.6,627.9 435.3,624.9 434.6,621.9 433.3,619.9 431.6,618.3 429.6,616.9 429,614.2 426.6,612.4 425.6,609.9 423.8,608.3 422.7,606.1 421.6,603.9 420,601.1 419.6,597.9 418.9,595 418.6,591.9 417,590.3 415.1,588.9 413.6,586.9 412.9,585.9 414.4,581.9 416.9,578.9 418,577 418.9,574.9Z"/>
<path class="c2" d="M356.5,580.4 357,578.4 356.5,577.7Z"/>
<path class="c3" d="M349.8,604.9 348.2,607.7 347.8,610.9 347.3,614.1 345.8,616.9 345.9,619.3 345.8,621.6 346.8,623.9 345.1,625.6 344.8,627.9 342.3,626.4 339.8,624.9 337.1,625.1 334.5,623.6 331.8,623.9 329.3,625.1 326.6,625.9 323.8,625.9 321.3,626.5 318.8,625.8 316.3,625.5 313.8,625.9 313.4,628.6 314.5,631.2 313.8,633.9 315.4,635.6 315.3,638.2 316.8,639.9 316.2,642.5 315.6,645.1 315.8,647.9 314.8,650.4 313.8,652.9 311.9,654.3 310.8,656.5 308.8,657.9 309.7,660.7 311.8,662.8 314.7,663.8 316.8,665.8 319.1,668.1 321.8,669.8 323.6,672.2 324.8,674.8 326.6,676.6 328.8,677.8 326.9,679.5 325.8,681.8 321.8,682.8 322.7,685.2 324.7,686.8 326.4,688.7 328.4,690.3 330.1,692.2 333,692.2 335.8,693.2 338.8,692.9 341,692.8 343.3,692.5 345.4,693.5 348,694.9 350.8,694.9 352.9,696 355.1,696.7 357.5,696.9 360.5,697.5 362.8,699.5 365.2,701.5 368.2,702.2 370.4,700.8 372.2,698.9 374.7,697.5 377.5,696.9 379.6,695.9 381.2,694.3 382.9,692.9 384.7,690.4 385.6,687.5 386.1,685.2 385.6,682.8 388.2,682.8 390,685.1 392.2,686.8 395,687.7 397.6,688.8 399.8,689.4 401.6,690.8 403.9,688.5 406.9,687.5 408.9,688.5 411,689.5 413.3,690.7 415,692.9 417,696.2 419.4,696.4 421.7,695.5 423.6,694.1 425,692.2 424.4,689.5 425.2,686.8 425,684.2 425.1,681.9 424.4,679.7 424.3,677.5 422.9,675.5 422.9,675.4 422.6,672.8 423,670.5 421.5,668.4 421.1,666.2 421.6,663.8 419.3,663.4 417.6,661.9 416.2,658.9 413.6,656.9 412.1,655.1 409.9,654 408.7,651.9 406.4,649.5 404.7,646.9 401.6,647.6 398.7,648.9 396.3,649.1 394,648.2 391.7,647.9 391.7,645.5 390.7,643.4 389.6,641.3 389.7,638.9 387.7,636.9 386,634.6 383.7,632.9 381.5,631.5 380.1,629.1 377.7,627.9 375.4,627.1 373.5,625.6 371.7,623.9 369.3,622.7 367.4,620.9 365.7,618.9 363.5,617.5 361.9,615.4 359.8,613.9 357,612.3 354.8,609.9 353,608.3 351.4,606.6Z"/>
<path class="c3" d="M422.9,675.5 422.6,672.8 422.9,675.4Z"/>
<path class="c4" d="M551.8,583.9 550.6,581.7 548.8,579.9 547.4,577.8 545.8,575.9 543.4,576.2 541.1,575.9 538.8,575.9 536.5,576.8 534.3,578 531.8,577.9 528.7,577.2 525.8,575.9 523.6,574.6 521.5,573.2 518.8,573 516.3,571.5 514.8,569 515,565.9 515.8,563 514.1,560.2 513.8,557 510.7,557 507.8,556 504.9,554.9 501.9,555 499.3,555 497,554.2 494.9,553 492.1,553.4 489.9,555 488,552.8 485.9,551 483.5,549.9 480.9,550 481.1,547.2 479.9,544.8 477.5,544.1 475,543.6 472.3,543.8 469.9,542.8 467.3,542.4 464.7,541.4 462,541.8 459.6,539.6 457,537.8 454.5,537.6 452,537 449.9,538.6 447.3,539 448.8,543 448.7,545.6 447.3,548 445.5,549.6 444.8,552 442.7,554 439.8,554.9 435.8,554.9 432.7,554.8 429.8,553.5 430.4,555.7 430.3,557.9 431.5,560 432.8,561.9 435.2,562.7 437.3,563.9 435.8,567.9 432.8,570.9 433.4,573.3 435.3,574.9 433.1,576.3 430.8,577.4 427.8,576.4 426.2,574.5 424.9,572.4 420.9,571.4 418.9,574.9 418,577 416.9,578.9 414.4,581.9 412.9,585.9 413.6,586.9 415.1,588.9 417,590.3 418.6,591.9 418.9,595 419.6,597.9 420,601.1 421.6,603.9 422.7,606.1 423.8,608.3 425.6,609.9 426.6,612.4 429,614.2 429.6,616.9 431.6,618.3 433.3,619.9 434.6,621.9 435.3,624.9 435.6,627.9 437,630.2 437.9,632.8 439.6,634.9 441.9,636 443.5,638.1 445.9,638.9 447.5,641.7 447.9,644.9 450.1,647.2 451.9,649.9 453.1,651.9 455.5,652.9 456.9,654.7 457.9,656.8 459.8,655.2 461.9,653.8 461,651.8 459.9,649.9 460.6,646.9 460.9,643.9 461.5,640.7 462.9,637.9 462.2,635.2 462.3,632.5 461.9,629.9 462.9,627.3 462.8,624.6 462.9,621.9 463.2,619.2 463.5,616.6 462.9,613.9 462.4,611.6 462.2,609.2 462.9,606.9 463.4,604.6 465.4,603.2 465.9,600.9 468.2,601.1 470.6,601.2 472.9,600.9 473.7,603 474.9,604.9 477.5,604.9 479.9,605.9 482.2,605.6 484.6,606.5 486.9,605.9 488.3,607.7 488.9,609.9 488.9,612.9 488.9,615.9 491.4,615.7 493.9,614.9 496.6,615 499.2,614.3 501.9,613.9 503.8,611.6 504.9,608.9 506.8,606.9 509.3,606.5 511.5,607.4 513.8,607.9 516.8,609 519.8,609.9 521.5,611.8 523.8,612.9 525.8,613.9 528.1,614.3 529.8,615.9 532.7,617.3 535.8,617.9 538.2,619.5 539.8,621.9 542.3,622.2 544.8,622.9 547.8,619.9 548.9,617.4 549.8,614.9 547,613.2 544.8,610.9 542.4,609.5 539.8,608.9 538,607.1 535.8,605.9 537.8,602.9 539.2,600 541.8,597.9 542.9,594.9 543.8,591.9 545.1,589.3 546.8,586.9 548.9,584.8Z"/>
<path class="c3" d="M762.9,137.9 758.9,137.9 756.5,136.8 753.9,135.9 751.6,137.5 748.9,137.9 745.9,138.6 742.9,138.9 740.6,139.9 738.4,141.1 735.9,141.9 734.3,144.3 732.9,146.9 731.4,149 731,151.6 730,153.9 727.1,152.4 725,149.9 724,147.5 724,144.9 721.5,145.3 719,144.9 719.6,147.3 720.3,149.6 721,151.9 722.1,153.8 723.5,155.7 724,157.9 724.7,161 726,163.9 728.9,165.3 730.9,167.9 733.3,168.7 734.7,171 736.9,171.9 738.2,173.8 738.9,175.9 741.4,176.3 743.6,175.6 745.9,174.9 748.2,175 750.6,174.6 752.9,174.9 755.1,173.8 757.6,174.3 759.9,173.9 762.2,173.1 764.2,171.7 765.9,169.9 768.7,168.4 771.9,167.9 774.6,166.7 776.9,164.9 778.9,162.9 778.6,160.3 777.9,157.9 777.4,155.3 777.5,152.5 776.9,149.9 776.3,147.2 775.8,144.5 774.9,141.9 772.5,141.3 770.1,140.8 767.9,139.9 765.2,139.3Z"/>
<path class="c4" d="M844.7,107 843.7,104 844.7,100 844.2,97.3 842.8,95 840.8,93.4 839.8,91 836.8,91.3 833.8,91 831.2,91 828.8,90 826.8,92 827.8,96 831.8,97 830.8,101 829,102.4 826.8,103 824.4,103.3 823,105.5 820.8,106 817.7,106.8 814.8,108 811.7,108.7 808.8,110 806.7,112.4 803.8,114 800.9,114.9 797.8,115 795.5,115.3 793.1,114.9 790.8,116 787.8,119 786.2,120.9 783.9,122 780.9,122 778.5,124.1 775.9,125.9 774.9,129.9 773,131.3 770.9,131.9 767.8,132.7 764.9,133.9 763.7,135.8 762.9,137.9 765.2,139.3 767.9,139.9 770.1,140.8 772.5,141.3 774.9,141.9 775.8,144.5 776.3,147.2 776.9,149.9 777.5,152.5 777.4,155.3 777.9,157.9 778.6,160.3 778.9,162.9 782.9,163.9 784.5,161.5 785.9,158.9 788.1,157.1 790.4,155.4 792.8,153.9 795.4,154 797.4,152.3 799.8,151.9 801.7,150.4 803.7,149.1 805.8,147.9 808.8,146.9 811.8,145.9 814.1,145 816.5,144.8 818.8,143.9 821.2,143.6 823.5,142.9 825.8,141.9 827.5,140.2 829.4,138.8 831.8,137.9 832.9,135.7 835.2,134.7 836.8,132.9 836.1,130.8 835.4,128.6 833.8,126.9 831.8,124.7 830.8,122 831.3,118.8 832.8,116 835.2,113.9 837.8,112 839.3,109.6 841.8,108Z"/>
<path class="c2" d="M889.7,112 886.8,110.5 883.7,110 882,107.7 879.7,106 878.7,103.6 876.7,102 877.4,99.5 876.7,97 874.4,95.9 872.7,94 870.2,93.4 867.7,93 865.2,93.3 862.7,94 863.7,98 863.1,100.4 862.7,103 860.1,103.1 857.7,104 854.7,104.4 851.7,105 849.6,106.4 847.1,106.5 844.7,107 841.8,108 839.3,109.6 837.8,112 835.2,113.9 832.8,116 831.3,118.8 830.8,122 831.8,124.7 833.8,126.9 835.4,128.6 836.1,130.8 836.8,132.9 839.7,133.7 842.8,133.9 844.7,132.8 846.7,131.9 848.7,130.9 850.7,128.3 853.7,126.9 856.5,125.3 859.7,124.9 861.7,126 863.7,127 865.7,127.9 866.6,130.4 868.7,131.9 870.8,133.2 873.5,132.9 875.7,133.9 878.6,132.7 881.7,131.9 884.1,131.5 886.5,131.2 888.7,129.9 891.2,129.7 893.6,128.9 893.7,126.4 892.1,124.4 891.7,122 890.9,119.5 890.7,117 890,114.5Z"/>
<path class="c2" d="M940.9,157.9 940,155.4 938.9,152.9 936,151.4 933.9,148.9 932.2,146.6 930.9,143.9 929.2,142.4 926.9,141.9 924.5,140.3 922.9,137.9 924.9,135.9 927.3,134.9 928.9,133 930.2,130.8 931.9,129 932.2,126.6 933.9,125 931.8,122.6 929.9,120 927.4,120.4 924.9,120 922,120.9 918.9,121 917.1,122.2 915.1,123.2 912.9,124 911.3,121.7 910.9,119 907,120 904.3,118.2 902,116 899.7,114.5 897,114 894.7,112.8 892.2,112.3 889.7,112 890,114.5 890.7,117 890.9,119.5 891.7,122 892.1,124.4 893.7,126.4 893.6,128.9 891.2,129.7 888.7,129.9 886.5,131.2 884.1,131.5 881.7,131.9 878.6,132.7 875.7,133.9 873.5,132.9 870.8,133.2 868.7,131.9 868.4,134.7 869.7,137.2 869.7,139.9 870.4,142.1 871,144.3 872.7,145.9 874.4,147.5 876.8,147.7 878.7,148.9 880.8,151 881.7,153.9 881.9,156.9 881.7,159.9 884,161 885.7,162.9 888.6,162.6 890.8,160.3 893.6,159.9 896.3,159.3 899,159.6 901.6,159.9 904,159.8 906.3,158.9 908.6,158.9 910.8,159.9 912.7,161.4 914.6,162.9 916.5,164.6 919,165.3 920.9,166.9 923.9,166.1 926.9,165.9 929.2,163.6 931.9,161.9 934.3,160.2 936.9,158.9Z"/>
<path class="c2" d="M952.9,155.9 949.9,158.9 947.7,160.6 944.9,160.9 942.9,159.4 940.9,157.9 936.9,158.9 934.3,160.2 931.9,161.9 929.2,163.6 926.9,165.9 923.9,166.1 920.9,166.9 919,165.3 916.5,164.6 914.6,162.9 912.7,161.4 910.8,159.9 908.6,158.9 906.3,158.9 904,159.8 901.6,159.9 899,159.6 896.3,159.3 893.6,159.9 890.8,160.3 888.6,162.6 885.7,162.9 884.2,165.4 882.7,167.9 884.3,169.6 884.1,172.2 885.7,173.9 886.9,176.5 888.7,178.9 888.3,181.4 887.7,183.9 889.9,184.4 891.6,186 893.6,186.9 896.5,188.2 899.6,188.9 901.9,189.3 903.7,190.8 905.6,191.9 908.1,192.7 909.6,194.8 912.6,194.4 915.6,193.9 918.3,194.3 920.8,195.2 922.9,196.9 925.1,197.5 927.3,198.2 928.9,199.9 931.2,201.6 933.9,202.9 936.8,202 939.9,201.9 942.7,200.3 945.9,199.9 948.1,200.9 950.6,200.1 952.9,200.9 954.3,198.5 954.9,195.9 953.2,193.7 952.9,190.9 952.6,188.4 952,186.1 950.9,183.9 950.3,180.9 950.9,177.9 949.8,175.7 948.9,173.4 948.9,170.9 949.9,168.7 950.3,166.3 950.9,163.9 951.7,161.3 951.6,158.4Z"/>
<path class="c3" d="M983.8,148.9 980.8,147.9 978.6,146.7 976.8,144.9 974.3,143.6 971.8,141.9 969.9,140.3 967.8,138.9 964.8,138.6 961.9,137.9 959.5,136.6 956.9,135.9 955.9,138.9 957.7,141.1 959.9,142.9 961,145.7 962.9,147.9 961.9,151.9 959.3,152.8 956.9,153.9 954.6,154.4 952.9,155.9 951.6,158.4 951.7,161.3 950.9,163.9 950.3,166.3 949.9,168.7 948.9,170.9 948.9,173.4 949.8,175.7 950.9,177.9 950.3,180.9 950.9,183.9 952,186.1 952.6,188.4 952.9,190.9 953.2,193.7 954.9,195.9 954.3,198.5 952.9,200.9 952.8,203.9 951.9,206.9 954.2,208.2 956.9,208.9 956.2,211.1 956.7,213.6 955.9,215.8 959.9,214.8 961.5,216.9 963.9,217.8 965.1,220.5 966.8,222.8 969.7,223.8 971.8,225.8 973.5,224.2 975.8,223.8 978.2,223.5 980.2,222.5 981.8,220.8 983.8,219.3 985.8,217.8 988.6,216.3 991.8,215.8 993.6,214.2 995.5,212.7 997.8,211.9 1000,211.4 1002.1,210.5 1003.8,208.9 1006.2,208.1 1008.1,206.7 1009.8,204.9 1008.3,203.1 1007.8,200.9 1005.7,199.4 1003.8,197.9 1002.2,195.9 1000.8,193.9 999,192.1 997.8,189.9 995.9,188.6 993.8,187.9 992,186.1 989.8,184.9 988,182.6 986.8,179.9 983.8,182.9 980.9,182.2 977.8,181.9 975.1,180.2 971.8,179.9 972.2,177.6 973.8,175.9 973,173 972.8,169.9 973.2,166.9 973.8,163.9 975.2,162.1 976,160 976.8,157.9 978.8,155.9 980.8,153.9 982.7,151.7Z"/>
<path class="c4" d="M1037.7,213.9 1040.6,212.3 1042.7,209.9 1045.7,206.9 1048.1,206.1 1050.7,205.9 1053.7,204.8 1056.7,203.9 1057.1,201.4 1056.7,198.9 1056.4,195.6 1054.7,192.9 1051.9,191.8 1049.7,189.9 1048.1,188.2 1045.9,187 1044.7,184.9 1043.8,182 1043.7,178.9 1042.6,176.4 1041.7,173.9 1038.6,174.1 1035.7,172.9 1032.6,172.4 1029.7,170.9 1026.6,170.3 1023.7,168.9 1020.6,169.2 1017.8,167.9 1016.3,166.2 1015.8,163.9 1012.8,165.9 1009.9,166.8 1007.8,168.9 1005.4,167.6 1002.8,166.9 1001.2,164.9 999.8,162.9 997.6,161.7 995.8,159.9 993.8,156.9 995.7,155.8 997.8,154.9 998.2,152.6 999.8,150.9 999,148.5 998.8,145.9 996.8,144.9 994.8,147.9 991.8,147.8 988.8,147.9 986.5,149.2 983.8,148.9 982.7,151.7 980.8,153.9 978.8,155.9 976.8,157.9 976,160 975.2,162.1 973.8,163.9 973.2,166.9 972.8,169.9 973,173 973.8,175.9 972.2,177.6 971.8,179.9 975.1,180.2 977.8,181.9 980.9,182.2 983.8,182.9 986.8,179.9 988,182.6 989.8,184.9 992,186.1 993.8,187.9 995.9,188.6 997.8,189.9 999,192.1 1000.8,193.9 1002.2,195.9 1003.8,197.9 1005.7,199.4 1007.8,200.9 1008.3,203.1 1009.8,204.9 1012.7,205.5 1015.8,205.9 1018.8,205.9 1021.8,206.9 1024.7,207.7 1027.7,207.9 1030.1,208.7 1032.1,209.9 1033.7,211.9 1035.6,213.1Z"/>
<path class="c3" d="M997.5,258.8 1001.5,257.5 1003.3,255.3 1005.8,253.8 1007.9,251.7 1010.8,250.8 1012.6,248.5 1013.8,245.8 1016,244.9 1017.6,242.9 1019.8,241.8 1021.5,239.1 1021.8,235.8 1023,233 1022.8,229.8 1023.7,227.3 1024.7,224.8 1027,223 1029.7,221.8 1032.3,220.5 1034.7,218.8 1035.9,216.2 1037.7,213.9 1035.6,213.1 1033.7,211.9 1032.1,209.9 1030.1,208.7 1027.7,207.9 1024.7,207.7 1021.8,206.9 1018.8,205.9 1015.8,205.9 1012.7,205.5 1009.8,204.9 1008.1,206.7 1006.2,208.1 1003.8,208.9 1002.1,210.5 1000,211.4 997.8,211.9 995.5,212.7 993.6,214.2 991.8,215.8 988.6,216.3 985.8,217.8 983.8,219.3 981.8,220.8 980.2,222.5 978.2,223.5 975.8,223.8 973.5,224.2 971.8,225.8 971.8,228.9 972.8,231.8 971.6,234.3 970.8,237 970.8,239.8 972.6,242.1 974.8,243.8 977,246.2 979.8,247.8 982.9,248.7 985.8,249.8 989,250.3 991.8,251.8 993.7,253.2 994.4,255.5 996.7,256.6Z"/>
<path class="c3" d="M890.8,253.9 893.7,255.9 896,256.4 897.6,258.1 899.7,258.9 902.7,259.3 905.7,259.9 907.7,261 909.5,262.4 911.7,262.9 914.1,263.6 915.7,265.5 917.7,266.9 920.3,267.5 922.7,268.8 925.3,269.5 928,269.5 930.7,270.1 933.4,269.5 935.9,268 937.4,265.5 940.1,265.9 942.7,264.8 945.3,265.9 948.1,266.2 950.8,269.5 953.4,270.3 956.1,270.8 958.4,271.5 960.8,272.2 962.5,274.9 962.8,278.2 964.3,275.6 965.5,272.9 966.6,270.4 968.1,268.2 969.8,266 970.8,263.5 973.5,260.1 975.5,259.2 977.5,258.1 980,258.2 982.2,259.5 985.5,262.2 987.4,261 989.5,260.1 992.9,260.8 995.5,260.4 997.5,258.8 996.7,256.6 994.4,255.5 993.7,253.2 991.8,251.8 989,250.3 985.8,249.8 982.9,248.7 979.8,247.8 977,246.2 974.8,243.8 972.6,242.1 970.8,239.8 970.8,237 971.6,234.3 972.8,231.8 971.8,228.9 971.8,225.8 969.7,223.8 966.8,222.8 965.1,220.5 963.9,217.8 961.5,216.9 959.9,214.8 955.9,215.8 956.7,213.6 956.2,211.1 956.9,208.9 954.2,208.2 951.9,206.9 952.8,203.9 952.9,200.9 950.6,200.1 948.1,200.9 945.9,199.9 942.7,200.3 939.9,201.9 936.8,202 933.9,202.9 933,205.8 932.9,208.9 930.5,211.1 928.9,213.9 926.5,215.4 924.9,217.8 924.9,220.4 926.3,222.5 926.9,224.8 927.1,227.2 927.9,229.5 927.9,231.8 926.4,234.7 925.9,237.8 924.4,240.7 921.9,242.8 919.6,243.9 917.5,245.3 914.9,245.8 912.5,246.3 910.3,247.4 908,247.8 905.1,247.7 902.5,248.8 900,249.8 897.1,251.3 894,251.8Z"/>
<path class="c2" d="M787.9,250.9 790.9,251.9 793.2,253.6 794.9,255.9 796.8,258.5 798.9,260.9 800.7,263.5 802.9,265.9 805.8,267.4 807.9,269.9 809.1,272 810.8,273.6 812.9,274.9 813.9,276.9 814.9,278.9 817.9,278.9 820.9,279.9 824.1,280.2 826.9,281.9 829.9,282.9 831.5,281 833.4,279.6 835.9,278.9 838.8,279 841.8,278.9 844.7,280.2 847.8,280.9 848.4,277.9 848.8,274.9 850.7,273.2 851.8,270.9 853.4,268.4 855.8,266.9 858.2,268.1 860.8,267.9 860.7,265.4 860.8,262.9 861.2,260.1 862.8,257.9 862.1,255.6 863.1,253.2 862.8,250.9 865.8,248.9 867.9,249.7 869.8,250.9 871.6,252.2 873.8,252.9 876.9,252.4 879.8,250.9 882.9,250.7 885.8,251.9 888.3,252.8 890.8,253.9 889.8,251.5 887.8,249.9 889.8,246.9 891.2,244.4 892.8,241.9 889.9,241 887.8,238.9 884.6,239.1 881.8,237.9 879.5,236 877.7,233.8 874.8,232.6 871.7,231.8 869.6,231.1 867.7,229.9 865.7,228.8 863.3,226.7 860.7,224.8 860.3,222.2 858.4,220.3 857.7,217.8 858.1,214.6 859.7,211.8 860.1,209.4 858.4,207.3 858.7,204.8 857,203.2 854.9,202.4 852.7,201.8 849.7,203.8 847.6,206.2 845.7,208.8 842.6,208.9 839.8,207.8 837.4,207.9 835,207.5 832.8,206.8 830.5,206.3 828,206.7 825.8,205.8 822.7,206.7 819.8,207.8 817,206.1 813.8,205.8 810.6,206.3 807.8,207.8 805.6,208.8 803.2,208.9 800.8,208.8 799.9,211.1 799.6,213.4 799.8,215.8 800,218.2 799.8,220.6 798.8,222.8 796.8,225 795.8,227.8 796.9,228.9 797.3,231.4 796.9,233.9 794.6,235.6 792.9,237.9 792,240.9 790.9,243.9 789.5,246.8 788.9,249.9Z"/>
<path class="c2" d="M738.9,175.9 737.4,177.6 736.5,179.6 735.9,181.9 735.4,184.4 733.6,186.4 732.9,188.9 735,190.8 736.9,192.9 737.9,195.2 739.7,197.2 739.9,199.8 740.6,202.6 742.3,205 742.9,207.8 743.6,210.2 746.2,211.4 746.9,213.8 748.9,215.6 750.2,217.8 751.9,219.8 754.6,220.6 757,221.9 758.5,224.4 761.3,225.6 763,227.9 765.1,229.5 766.6,231.5 768,233.5 769,235.9 770.7,237.6 773.2,238.2 775,239.9 777.8,241.5 780,243.9 780.6,246.1 782.3,247.7 782.9,249.9 785.6,249.6 787.9,250.9 788.9,249.9 789.5,246.8 790.9,243.9 792,240.9 792.9,237.9 794.6,235.6 796.9,233.9 797.3,231.4 796.9,228.9 795.8,227.8 796.8,225 798.8,222.8 799.8,220.6 800,218.2 799.8,215.8 799.6,213.4 799.9,211.1 800.8,208.8 799.8,204.8 799.6,202.1 797.8,199.8 798.3,197.3 797.8,194.8 800.3,192.8 801.8,189.9 803,187 802.8,183.9 804.1,181 803.8,177.9 801.9,175.8 799.8,173.9 797.9,172.7 796.1,171.4 793.8,170.9 791.2,170.5 789.2,168.8 786.8,167.9 785.1,165.6 782.9,163.9 778.9,162.9 776.9,164.9 774.6,166.7 771.9,167.9 768.7,168.4 765.9,169.9 764.2,171.7 762.2,173.1 759.9,173.9 757.6,174.3 755.1,173.8 752.9,174.9 750.6,174.6 748.2,175 745.9,174.9 743.6,175.6 741.4,176.3Z"/>
<path class="c2" d="M836.8,132.9 835.2,134.7 832.9,135.7 831.8,137.9 829.4,138.8 827.5,140.2 825.8,141.9 823.5,142.9 821.2,143.6 818.8,143.9 816.5,144.8 814.1,145 811.8,145.9 808.8,146.9 805.8,147.9 803.7,149.1 801.7,150.4 799.8,151.9 797.4,152.3 795.4,154 792.8,153.9 790.4,155.4 788.1,157.1 785.9,158.9 784.5,161.5 782.9,163.9 785.1,165.6 786.8,167.9 789.2,168.8 791.2,170.5 793.8,170.9 796.1,171.4 797.9,172.7 799.8,173.9 801.9,175.8 803.8,177.9 804.1,181 802.8,183.9 803,187 801.8,189.9 800.3,192.8 797.8,194.8 798.3,197.3 797.8,199.8 799.6,202.1 799.8,204.8 800.8,208.8 803.2,208.9 805.6,208.8 807.8,207.8 810.6,206.3 813.8,205.8 817,206.1 819.8,207.8 822.7,206.7 825.8,205.8 828,206.7 830.5,206.3 832.8,206.8 835,207.5 837.4,207.9 839.8,207.8 842.6,208.9 845.7,208.8 847.6,206.2 849.7,203.8 852.7,201.8 854.9,202.4 857,203.2 858.7,204.8 860.8,203.3 863.2,202.5 865.7,201.8 867.4,199.5 869.3,197.5 871.7,195.8 873.7,193.3 875.7,190.9 877.4,189.4 879.5,188.5 881.7,187.9 883.7,186.5 885.3,184.7 887.7,183.9 888.3,181.4 888.7,178.9 886.9,176.5 885.7,173.9 884.1,172.2 884.3,169.6 882.7,167.9 884.2,165.4 885.7,162.9 884,161 881.7,159.9 881.9,156.9 881.7,153.9 880.8,151 878.7,148.9 876.8,147.7 874.4,147.5 872.7,145.9 871,144.3 870.4,142.1 869.7,139.9 869.7,137.2 868.4,134.7 868.7,131.9 866.6,130.4 865.7,127.9 863.7,127 861.7,126 859.7,124.9 856.5,125.3 853.7,126.9 850.7,128.3 848.7,130.9 846.7,131.9 844.7,132.8 842.8,133.9 839.7,133.7ZM827.8,167.9 828.7,165.6 830.8,164.1 831.8,161.9 834,161.3 835.7,159.7 837.8,158.9 840.5,160.6 843.7,160.9 846.2,163 847.7,165.9 846.3,167.7 845.8,169.9 844.7,171.9 842.3,172.8 839.8,172.9 836.8,174.1 833.8,174.9 831.7,173.9 829.8,172.9 829,170.3Z"/>
<path class="c3" d="M887.7,183.9 885.3,184.7 883.7,186.5 881.7,187.9 879.5,188.5 877.4,189.4 875.7,190.9 873.7,193.3 871.7,195.8 869.3,197.5 867.4,199.5 865.7,201.8 863.2,202.5 860.8,203.3 858.7,204.8 858.4,207.3 860.1,209.4 859.7,211.8 858.1,214.6 857.7,217.8 858.4,220.3 860.3,222.2 860.7,224.8 863.3,226.7 865.7,228.8 867.7,229.9 869.6,231.1 871.7,231.8 874.8,232.6 877.7,233.8 879.5,236 881.8,237.9 884.6,239.1 887.8,238.9 889.9,241 892.8,241.9 891.2,244.4 889.8,246.9 887.8,249.9 889.8,251.5 890.8,253.9 894,251.8 897.1,251.3 900,249.8 902.5,248.8 905.1,247.7 908,247.8 910.3,247.4 912.5,246.3 914.9,245.8 917.5,245.3 919.6,243.9 921.9,242.8 924.4,240.7 925.9,237.8 926.4,234.7 927.9,231.8 927.9,229.5 927.1,227.2 926.9,224.8 926.3,222.5 924.9,220.4 924.9,217.8 926.5,215.4 928.9,213.9 930.5,211.1 932.9,208.9 933,205.8 933.9,202.9 931.2,201.6 928.9,199.9 927.3,198.2 925.1,197.5 922.9,196.9 920.8,195.2 918.3,194.3 915.6,193.9 912.6,194.4 909.6,194.8 908.1,192.7 905.6,191.9 903.7,190.8 901.9,189.3 899.6,188.9 896.5,188.2 893.6,186.9 891.6,186 889.9,184.4Z"/>
<path class="c1" d="M827.8,167.9 829,170.3 829.8,172.9 831.7,173.9 833.8,174.9 836.8,174.1 839.8,172.9 842.3,172.8 844.7,171.9 845.8,169.9 846.3,167.7 847.7,165.9 846.2,163 843.7,160.9 840.5,160.6 837.8,158.9 835.7,159.7 834,161.3 831.8,161.9 830.8,164.1 828.7,165.6Z"/>
</g>
<g id="labels" transform="scale(0.94 1)">
<text x="504.8" y="577.3">JH</text>
<text x="666" y="630.3">ZN</text>
<text x="318.6" y="608.8">PT</text>
<text x="410.1" y="608.3">CB</text>
<text x="382.4" y="662.8">CK</text>
<text x="291" y="430.3">RO</text>
<text x="458" y="443.8">BN</text>
<text x="357.4" y="458.8">PB</text>
<text x="375" y="521.8">PI</text>
<text x="443.1" y="525.3">TA</text>
<text x="320.7" y="545.8">ST</text>
<text x="234" y="408.3">PS</text>
<text x="528.2" y="416.8">KH</text>
<text x="622.9" y="415.8">CR</text>
<text x="573.4" y="459.8">HB</text>
<text x="515.4" y="511.8">PE</text>
<text x="578.7" y="534.8">JI</text>
<text x="629.8" y="565.8">TR</text>
<text x="656.4" y="495.6">ZR</text>
<text x="736.2" y="558.8">BM</text>
<text x="729.3" y="584.8">TR</text>
<text x="796.3" y="550.8">VY</text>
<text x="887.8" y="593.8">UH</text>
<text x="838.3" y="615.8">HO</text>
<text x="764.4" y="630.8">BV</text>
<text x="950" y="454.8">NJ</text>
<text x="1028.2" y="462.8">FM</text>
<text x="971.3" y="516.8">VS</text>
<text x="867.6" y="538.3">KM</text>
<text x="921.8" y="552.3">ZL</text>
<text x="936.2" y="403.8">OP</text>
<text x="986.2" y="418.8">OV</text>
<text x="1019.7" y="414.8" class="w">KI</text>
<text x="717" y="383.8">UO</text>
<text x="789.4" y="388.8">SU</text>
<text x="866.5" y="373.3" class="w">BR</text>
<text x="714.4" y="446.8">SY</text>
<text x="832.4" y="453.3">OC</text>
<text x="887.2" y="491.3">PR</text>
<text x="812.8" y="496.3">PV</text>
<text x="739.9" y="500.8">BK</text>
<text x="816" y="326.3">JE</text>
<text x="664.4" y="282.3">NA</text>
<text x="597.3" y="336.8">HK</text>
<text x="682.4" y="342.8">RK</text>
<text x="506.9" y="339.8">NB</text>
<text x="607.4" y="374.8">PU</text>
<text x="500" y="382.8">KO</text>
<text x="438.3" y="242.3">CL</text>
<text x="501.6" y="214.3">LI</text>
<text x="529.8" y="226.3">JN</text>
<text x="556.4" y="251.8">SM</text>
<text x="613.8" y="263.8">TU</text>
<text x="478.7" y="294.8">MB</text>
<text x="559.6" y="298.3">JC</text>
<text x="402.1" y="200.8">DC</text>
<text x="350" y="233.3">UL</text>
<text x="313.8" y="253.3" class="w">TP</text>
<text x="284" y="263.3" class="w">MO</text>
<text x="236.2" y="290.3">CV</text>
<text x="372.3" y="280.3">LT</text>
<text x="287.2" y="317.3">LN</text>
<text x="417" y="311.3">ME</text>
<text x="356.4" y="343.8">KD</text>
<text x="301.1" y="364.3">RA</text>
<text x="413.8" y="372.3">PH</text>
<text x="345.7" y="405.3">BE</text>
<text x="447.9" y="399.3">PY</text>
<text x="397.9" y="413.3">PZ</text>
<text x="155.3" y="432.3">TC</text>
<text x="247.9" y="442.3">PM</text>
<text x="259.6" y="471.3">PJ</text>
<text x="175.5" y="494.3">DO</text>
<text x="242.6" y="544.3">KT</text>
<text x="100" y="360.3">CH</text>
<text x="138.3" y="335.3">SO</text>
<text x="196.8" y="338.3">KV</text>
<text x="915.4" y="120.3">LBK</text>
<text x="855.3" y="137.3">ULK</text>
<text x="961.2" y="142.8">HKK</text>
<text x="796.3" y="160.3">KVK</text>
<text x="887.2" y="169.8">PHA</text>
<text x="976.1" y="181.8">PAK</text>
<text x="892.6" y="192.8">STC</text>
<text x="1083" y="186.8">MSK</text>
<text x="818.1" y="204.8">PLK</text>
<text x="1041" y="207.8">OLK</text>
<text x="948.4" y="220.8">VYS</text>
<text x="886.2" y="246.8">JHC</text>
<text x="1010.6" y="245.8">JHM</text>
<text x="1064.4" y="237.8">ZLK</text>
</g>
<g id="legend">
<text x="73.8" y="590.7" style="font-size:14px" textLength="43" lengthAdjust="spacing">Osoby</text>
<text x="74" y="611.7" style="font-size:12.8px;font-style:italic" textLength="50" lengthAdjust="spacing">Persons</text>
<rect x="74.5" y="621.4" width="38" height="18.6" class="c1"/>
<rect x="74.5" y="646.6" width="38" height="18.6" class="c2"/>
<rect x="74.5" y="672" width="38" height="18.6" class="c3"/>
<rect x="74.5" y="697.3" width="38" height="18.6" class="c4"/>
<rect x="74.5" y="722.6" width="38" height="18.6" class="c5"/>
<text x="118" y="634.8" textLength="41" lengthAdjust="spacing">&lt;=&#160; 5,0</text>
<text x="117" y="660.3" textLength="56" lengthAdjust="spacing">5,1 - 10,0</text>
<text x="117" y="685.6" textLength="63" lengthAdjust="spacing">10,1 - 20,0</text>
<text x="117" y="710.9" textLength="63" lengthAdjust="spacing">20,1 - 30,0</text>
<text x="118" y="736.2" textLength="37.5" lengthAdjust="spacing">&gt; 30,0</text>
</g>
<g id="notes">
<text x="467" y="710.1" textLength="227.5" lengthAdjust="spacing">Česká republika / <tspan font-style="italic">Czech republic</tspan> = 9,8</text>
<text x="467" y="724.9" textLength="157" lengthAdjust="spacing">Maximum:&#160; Karviná =&#160; 78,1</text>
<text x="467" y="739.7" textLength="188" lengthAdjust="spacing">Minimum: Praha - východ&#160; = 1,4</text>
</g>
</svg>
</body>
</html>
